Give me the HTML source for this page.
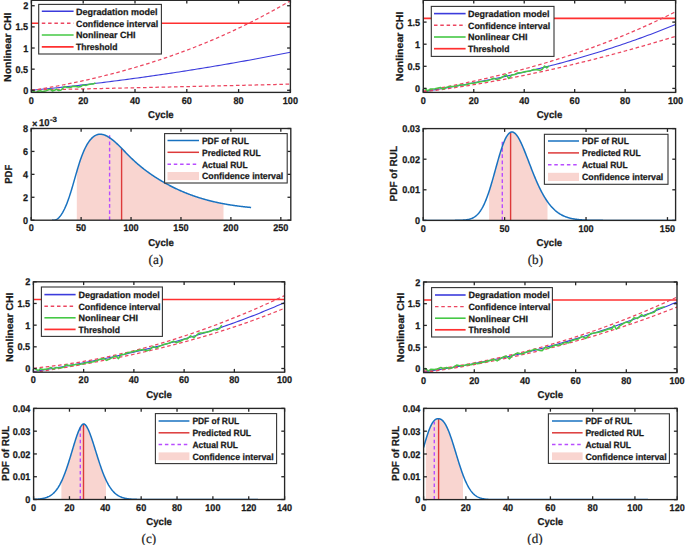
<!DOCTYPE html>
<html><head><meta charset="utf-8"><style>
html,body{margin:0;padding:0;background:#fff;width:685px;height:545px;overflow:hidden}
svg text{text-rendering:geometricPrecision}

</style></head><body>
<svg width="685" height="545" viewBox="0 0 685 545" style="display:block">
<rect width="685" height="545" fill="#fff"/>
<clipPath id="c1"><rect x="31.4" y="0.3" width="259" height="92.1"/></clipPath>
<g clip-path="url(#c1)">
<polyline points="31.4,23.24 290.4,23.24" fill="none" stroke="#ff3030" stroke-width="1.6" stroke-linejoin="round"/>
<polyline points="31.4,90.29 33.99,90.04 36.58,89.79 39.17,89.54 41.76,89.28 44.35,89.03 46.94,88.77 49.53,88.5 52.12,88.24 54.71,87.97 57.3,87.7 59.89,87.43 62.48,87.15 65.07,86.87 67.66,86.59 70.25,86.3 72.84,86.02 75.43,85.73 78.02,85.44 80.61,85.14 83.2,84.84 85.79,84.54 88.38,84.24 90.97,83.93 93.56,83.62 96.15,83.31 98.74,83 101.33,82.68 103.92,82.36 106.51,82.04 109.1,81.72 111.69,81.39 114.28,81.06 116.87,80.73 119.46,80.39 122.05,80.05 124.64,79.71 127.23,79.37 129.82,79.02 132.41,78.67 135,78.32 137.59,77.96 140.18,77.61 142.77,77.25 145.36,76.89 147.95,76.52 150.54,76.15 153.13,75.78 155.72,75.41 158.31,75.03 160.9,74.65 163.49,74.27 166.08,73.89 168.67,73.5 171.26,73.11 173.85,72.72 176.44,72.32 179.03,71.93 181.62,71.53 184.21,71.12 186.8,70.72 189.39,70.31 191.98,69.9 194.57,69.48 197.16,69.07 199.75,68.65 202.34,68.23 204.93,67.8 207.52,67.37 210.11,66.94 212.7,66.51 215.29,66.08 217.88,65.64 220.47,65.2 223.06,64.75 225.65,64.31 228.24,63.86 230.83,63.41 233.42,62.95 236.01,62.49 238.6,62.03 241.19,61.57 243.78,61.11 246.37,60.64 248.96,60.17 251.55,59.7 254.14,59.22 256.73,58.74 259.32,58.26 261.91,57.78 264.5,57.29 267.09,56.8 269.68,56.31 272.27,55.81 274.86,55.31 277.45,54.81 280.04,54.31 282.63,53.81 285.22,53.3 287.81,52.79 290.4,52.27" fill="none" stroke="#3b3bdc" stroke-width="1.1" stroke-linejoin="round"/>
<polyline points="31.4,90.52 33.99,90.1 36.58,89.67 39.17,89.24 41.76,88.8 44.35,88.35 46.94,87.89 49.53,87.43 52.12,86.96 54.71,86.48 57.3,86 59.89,85.5 62.48,85 65.07,84.49 67.66,83.98 70.25,83.45 72.84,82.92 75.43,82.38 78.02,81.83 80.61,81.27 83.2,80.7 85.79,80.13 88.38,79.55 90.97,78.95 93.56,78.35 96.15,77.74 98.74,77.12 101.33,76.5 103.92,75.86 106.51,75.21 109.1,74.56 111.69,73.89 114.28,73.22 116.87,72.54 119.46,71.84 122.05,71.14 124.64,70.43 127.23,69.71 129.82,68.97 132.41,68.23 135,67.48 137.59,66.72 140.18,65.94 142.77,65.16 145.36,64.37 147.95,63.56 150.54,62.75 153.13,61.92 155.72,61.09 158.31,60.24 160.9,59.38 163.49,58.52 166.08,57.64 168.67,56.75 171.26,55.84 173.85,54.93 176.44,54.01 179.03,53.07 181.62,52.12 184.21,51.16 186.8,50.19 189.39,49.21 191.98,48.21 194.57,47.21 197.16,46.19 199.75,45.16 202.34,44.11 204.93,43.06 207.52,41.99 210.11,40.91 212.7,39.82 215.29,38.71 217.88,37.59 220.47,36.46 223.06,35.32 225.65,34.16 228.24,32.99 230.83,31.81 233.42,30.61 236.01,29.4 238.6,28.18 241.19,26.94 243.78,25.69 246.37,24.43 248.96,23.15 251.55,21.86 254.14,20.56 256.73,19.24 259.32,17.9 261.91,16.56 264.5,15.2 267.09,13.82 269.68,12.43 272.27,11.03 274.86,9.61 277.45,8.17 280.04,6.73 282.63,5.26 285.22,3.79 287.81,2.29 290.4,0.78" fill="none" stroke="#ec4660" stroke-width="1.25" stroke-dasharray="3.6 2.6" stroke-linejoin="round"/>
<polyline points="31.4,89.99 33.99,89.94 36.58,89.88 39.17,89.83 41.76,89.78 44.35,89.72 46.94,89.67 49.53,89.61 52.12,89.56 54.71,89.5 57.3,89.45 59.89,89.4 62.48,89.34 65.07,89.29 67.66,89.23 70.25,89.18 72.84,89.12 75.43,89.07 78.02,89.01 80.61,88.95 83.2,88.9 85.79,88.84 88.38,88.79 90.97,88.73 93.56,88.68 96.15,88.62 98.74,88.56 101.33,88.51 103.92,88.45 106.51,88.4 109.1,88.34 111.69,88.28 114.28,88.23 116.87,88.17 119.46,88.11 122.05,88.05 124.64,88 127.23,87.94 129.82,87.88 132.41,87.83 135,87.77 137.59,87.71 140.18,87.65 142.77,87.59 145.36,87.54 147.95,87.48 150.54,87.42 153.13,87.36 155.72,87.3 158.31,87.24 160.9,87.19 163.49,87.13 166.08,87.07 168.67,87.01 171.26,86.95 173.85,86.89 176.44,86.83 179.03,86.77 181.62,86.71 184.21,86.65 186.8,86.59 189.39,86.53 191.98,86.47 194.57,86.41 197.16,86.35 199.75,86.29 202.34,86.23 204.93,86.17 207.52,86.11 210.11,86.05 212.7,85.99 215.29,85.93 217.88,85.87 220.47,85.81 223.06,85.75 225.65,85.69 228.24,85.63 230.83,85.56 233.42,85.5 236.01,85.44 238.6,85.38 241.19,85.32 243.78,85.26 246.37,85.19 248.96,85.13 251.55,85.07 254.14,85.01 256.73,84.95 259.32,84.88 261.91,84.82 264.5,84.76 267.09,84.69 269.68,84.63 272.27,84.57 274.86,84.51 277.45,84.44 280.04,84.38 282.63,84.31 285.22,84.25 287.81,84.19 290.4,84.12" fill="none" stroke="#ec4660" stroke-width="1.25" stroke-dasharray="3.6 2.6" stroke-linejoin="round"/>
<polyline points="31.6,91.5 32,90.3 34,91.8 36.1,92.6 38,91.2 40.2,90.8 43,91.6 45.3,91.1 48,90 50.4,89.3 52.5,91.1 54.5,90.2 56.6,89.3 58.5,90.6 60.7,90.3 62.5,88.6 64.7,86.4 67,87.6 70.9,87.3 73,86.3 76,86.4 78.5,87 81.1,86.4 83.1,85 86.2,85.4 88.5,84.6 91.3,84 93.3,83.9 95.4,83" fill="none" stroke="#45c845" stroke-width="1.5" stroke-linejoin="round"/>
</g>
<line x1="31.4" y1="92.4" x2="31.4" y2="89.1" stroke="#262626" stroke-width="1.3"/>
<line x1="31.4" y1="0.3" x2="31.4" y2="3.6" stroke="#262626" stroke-width="1.3"/>
<line x1="83.2" y1="92.4" x2="83.2" y2="89.1" stroke="#262626" stroke-width="1.3"/>
<line x1="83.2" y1="0.3" x2="83.2" y2="3.6" stroke="#262626" stroke-width="1.3"/>
<line x1="135" y1="92.4" x2="135" y2="89.1" stroke="#262626" stroke-width="1.3"/>
<line x1="135" y1="0.3" x2="135" y2="3.6" stroke="#262626" stroke-width="1.3"/>
<line x1="186.8" y1="92.4" x2="186.8" y2="89.1" stroke="#262626" stroke-width="1.3"/>
<line x1="186.8" y1="0.3" x2="186.8" y2="3.6" stroke="#262626" stroke-width="1.3"/>
<line x1="238.6" y1="92.4" x2="238.6" y2="89.1" stroke="#262626" stroke-width="1.3"/>
<line x1="238.6" y1="0.3" x2="238.6" y2="3.6" stroke="#262626" stroke-width="1.3"/>
<line x1="290.4" y1="92.4" x2="290.4" y2="89.1" stroke="#262626" stroke-width="1.3"/>
<line x1="290.4" y1="0.3" x2="290.4" y2="3.6" stroke="#262626" stroke-width="1.3"/>
<line x1="31.4" y1="90.3" x2="34.7" y2="90.3" stroke="#262626" stroke-width="1.3"/>
<line x1="290.4" y1="90.3" x2="287.1" y2="90.3" stroke="#262626" stroke-width="1.3"/>
<line x1="31.4" y1="69.16" x2="34.7" y2="69.16" stroke="#262626" stroke-width="1.3"/>
<line x1="290.4" y1="69.16" x2="287.1" y2="69.16" stroke="#262626" stroke-width="1.3"/>
<line x1="31.4" y1="48.02" x2="34.7" y2="48.02" stroke="#262626" stroke-width="1.3"/>
<line x1="290.4" y1="48.02" x2="287.1" y2="48.02" stroke="#262626" stroke-width="1.3"/>
<line x1="31.4" y1="26.88" x2="34.7" y2="26.88" stroke="#262626" stroke-width="1.3"/>
<line x1="290.4" y1="26.88" x2="287.1" y2="26.88" stroke="#262626" stroke-width="1.3"/>
<line x1="31.4" y1="5.74" x2="34.7" y2="5.74" stroke="#262626" stroke-width="1.3"/>
<line x1="290.4" y1="5.74" x2="287.1" y2="5.74" stroke="#262626" stroke-width="1.3"/>
<rect x="31.4" y="0.3" width="259" height="92.1" fill="none" stroke="#262626" stroke-width="1.35"/>
<text x="31.4" y="104.1" font-size="9.8" font-weight="bold" text-anchor="middle" fill="#1a1a1a" font-family='"Liberation Sans", sans-serif' textLength="5.07" lengthAdjust="spacingAndGlyphs" stroke="#1a1a1a" stroke-width="0.25">0</text>
<text x="83.2" y="104.1" font-size="9.8" font-weight="bold" text-anchor="middle" fill="#1a1a1a" font-family='"Liberation Sans", sans-serif' textLength="10.14" lengthAdjust="spacingAndGlyphs" stroke="#1a1a1a" stroke-width="0.25">20</text>
<text x="135" y="104.1" font-size="9.8" font-weight="bold" text-anchor="middle" fill="#1a1a1a" font-family='"Liberation Sans", sans-serif' textLength="10.14" lengthAdjust="spacingAndGlyphs" stroke="#1a1a1a" stroke-width="0.25">40</text>
<text x="186.8" y="104.1" font-size="9.8" font-weight="bold" text-anchor="middle" fill="#1a1a1a" font-family='"Liberation Sans", sans-serif' textLength="10.14" lengthAdjust="spacingAndGlyphs" stroke="#1a1a1a" stroke-width="0.25">60</text>
<text x="238.6" y="104.1" font-size="9.8" font-weight="bold" text-anchor="middle" fill="#1a1a1a" font-family='"Liberation Sans", sans-serif' textLength="10.14" lengthAdjust="spacingAndGlyphs" stroke="#1a1a1a" stroke-width="0.25">80</text>
<text x="290.4" y="104.1" font-size="9.8" font-weight="bold" text-anchor="middle" fill="#1a1a1a" font-family='"Liberation Sans", sans-serif' textLength="15.2" lengthAdjust="spacingAndGlyphs" stroke="#1a1a1a" stroke-width="0.25">100</text>
<text x="28.2" y="93.9" font-size="9.8" font-weight="bold" text-anchor="end" fill="#1a1a1a" font-family='"Liberation Sans", sans-serif' textLength="5.07" lengthAdjust="spacingAndGlyphs" stroke="#1a1a1a" stroke-width="0.25">0</text>
<text x="28.2" y="72.76" font-size="9.8" font-weight="bold" text-anchor="end" fill="#1a1a1a" font-family='"Liberation Sans", sans-serif' textLength="12.67" lengthAdjust="spacingAndGlyphs" stroke="#1a1a1a" stroke-width="0.25">0.5</text>
<text x="28.2" y="51.62" font-size="9.8" font-weight="bold" text-anchor="end" fill="#1a1a1a" font-family='"Liberation Sans", sans-serif' textLength="5.07" lengthAdjust="spacingAndGlyphs" stroke="#1a1a1a" stroke-width="0.25">1</text>
<text x="28.2" y="30.48" font-size="9.8" font-weight="bold" text-anchor="end" fill="#1a1a1a" font-family='"Liberation Sans", sans-serif' textLength="12.67" lengthAdjust="spacingAndGlyphs" stroke="#1a1a1a" stroke-width="0.25">1.5</text>
<text x="28.2" y="9.34" font-size="9.8" font-weight="bold" text-anchor="end" fill="#1a1a1a" font-family='"Liberation Sans", sans-serif' textLength="5.07" lengthAdjust="spacingAndGlyphs" stroke="#1a1a1a" stroke-width="0.25">2</text>
<rect x="38.7" y="4.4" width="122.7" height="49.6" fill="#fff" stroke="#333" stroke-width="1.1"/>
<line x1="41.8" y1="11.3" x2="73.6" y2="11.3" stroke="#3b3bdc" stroke-width="1.6"/>
<text x="76" y="14.6" font-size="9.0" font-weight="bold" text-anchor="start" fill="#1a1a1a" font-family='"Liberation Sans", sans-serif' textLength="81.4" lengthAdjust="spacingAndGlyphs" stroke="#1a1a1a" stroke-width="0.25">Degradation model</text>
<line x1="41.8" y1="23.2" x2="73.6" y2="23.2" stroke="#ec4660" stroke-width="1.45" stroke-dasharray="3.5 2.8"/>
<text x="76" y="26.5" font-size="9.0" font-weight="bold" text-anchor="start" fill="#1a1a1a" font-family='"Liberation Sans", sans-serif' textLength="82.1" lengthAdjust="spacingAndGlyphs" stroke="#1a1a1a" stroke-width="0.25">Confidence interval</text>
<line x1="41.8" y1="35" x2="73.6" y2="35" stroke="#45c845" stroke-width="1.6"/>
<text x="76" y="38.3" font-size="9.0" font-weight="bold" text-anchor="start" fill="#1a1a1a" font-family='"Liberation Sans", sans-serif' textLength="59.5" lengthAdjust="spacingAndGlyphs" stroke="#1a1a1a" stroke-width="0.25">Nonlinear CHI</text>
<line x1="41.8" y1="46.8" x2="73.6" y2="46.8" stroke="#ff3030" stroke-width="1.7"/>
<text x="76" y="50.1" font-size="9.0" font-weight="bold" text-anchor="start" fill="#1a1a1a" font-family='"Liberation Sans", sans-serif' textLength="41.5" lengthAdjust="spacingAndGlyphs" stroke="#1a1a1a" stroke-width="0.25">Threshold</text>
<text x="160.9" y="118" font-size="10" font-weight="bold" text-anchor="middle" fill="#1a1a1a" font-family='"Liberation Sans", sans-serif' textLength="25.6" lengthAdjust="spacingAndGlyphs" stroke="#1a1a1a" stroke-width="0.25">Cycle</text>
<text x="11" y="47.2" font-size="10" font-weight="bold" text-anchor="middle" fill="#1a1a1a" font-family='"Liberation Sans", sans-serif' textLength="69.5" lengthAdjust="spacingAndGlyphs" transform="rotate(-90 11 47.2)" stroke="#1a1a1a" stroke-width="0.25">Nonlinear CHI</text>
<clipPath id="c2"><rect x="31.2" y="128.5" width="259.6" height="91.7"/></clipPath>
<polygon points="76.8,220.2 76.8,171.49 77.1,170.47 77.6,168.78 78.1,167.12 78.6,165.48 79.1,163.88 79.6,162.32 80.1,160.8 80.6,159.33 81.1,157.91 81.6,156.54 82.1,155.22 82.6,153.94 83.1,152.71 83.6,151.53 84.1,150.39 84.6,149.3 85.1,148.25 85.6,147.25 86.1,146.28 86.6,145.37 87.1,144.49 87.6,143.65 88.1,142.86 88.6,142.1 89.1,141.39 89.6,140.71 90.1,140.07 90.6,139.47 91.1,138.9 91.6,138.37 92.1,137.88 92.6,137.42 93.1,136.99 93.6,136.6 94.1,136.24 94.6,135.91 95.1,135.61 95.6,135.35 96.1,135.11 96.6,134.9 97.1,134.73 97.6,134.58 98.1,134.45 98.6,134.36 99.1,134.29 99.6,134.24 100.1,134.23 100.6,134.23 101.1,134.26 101.6,134.31 102.1,134.39 102.6,134.48 103.1,134.6 103.6,134.74 104.1,134.89 104.6,135.07 105.1,135.26 105.6,135.47 106.1,135.7 106.6,135.95 107.1,136.21 107.6,136.48 108.1,136.77 108.6,137.08 109.1,137.39 109.6,137.72 110.1,138.07 110.6,138.42 111.1,138.78 111.6,139.16 112.1,139.54 112.6,139.94 113.1,140.34 113.6,140.75 114.1,141.18 114.6,141.61 115.1,142.05 115.6,142.49 116.1,142.94 116.6,143.4 117.1,143.87 117.6,144.34 118.1,144.82 118.6,145.3 119.1,145.79 119.6,146.28 120.1,146.78 120.6,147.28 121.1,147.78 121.6,148.29 122.1,148.8 122.6,149.31 123.1,149.82 123.6,150.34 124.1,150.85 124.6,151.37 125.1,151.88 125.6,152.4 126.1,152.91 126.6,153.43 127.1,153.94 127.6,154.45 128.1,154.96 128.6,155.46 129.1,155.96 129.6,156.46 130.1,156.96 130.6,157.45 131.1,157.94 131.6,158.42 132.1,158.9 132.6,159.38 133.1,159.85 133.6,160.31 134.1,160.78 134.6,161.23 135.1,161.69 135.6,162.14 136.1,162.59 136.6,163.03 137.1,163.47 137.6,163.9 138.1,164.34 138.6,164.76 139.1,165.19 139.6,165.61 140.1,166.03 140.6,166.44 141.1,166.85 141.6,167.25 142.1,167.66 142.6,168.06 143.1,168.45 143.6,168.85 144.1,169.23 144.6,169.62 145.1,170 145.6,170.38 146.1,170.76 146.6,171.13 147.1,171.5 147.6,171.87 148.1,172.23 148.6,172.59 149.1,172.95 149.6,173.31 150.1,173.66 150.6,174.01 151.1,174.35 151.6,174.7 152.1,175.04 152.6,175.38 153.1,175.71 153.6,176.04 154.1,176.37 154.6,176.7 155.1,177.03 155.6,177.35 156.1,177.67 156.6,177.99 157.1,178.3 157.6,178.61 158.1,178.92 158.6,179.23 159.1,179.54 159.6,179.84 160.1,180.14 160.6,180.44 161.1,180.74 161.6,181.03 162.1,181.33 162.6,181.62 163.1,181.91 163.6,182.19 164.1,182.48 164.6,182.76 165.1,183.04 165.6,183.32 166.1,183.59 166.6,183.87 167.1,184.14 167.6,184.41 168.1,184.68 168.6,184.94 169.1,185.21 169.6,185.47 170.1,185.73 170.6,185.99 171.1,186.24 171.6,186.5 172.1,186.75 172.6,187 173.1,187.25 173.6,187.49 174.1,187.74 174.6,187.98 175.1,188.22 175.6,188.46 176.1,188.7 176.6,188.93 177.1,189.16 177.6,189.39 178.1,189.62 178.6,189.85 179.1,190.08 179.6,190.3 180.1,190.52 180.6,190.74 181.1,190.96 181.6,191.18 182.1,191.39 182.6,191.6 183.1,191.82 183.6,192.02 184.1,192.23 184.6,192.44 185.1,192.64 185.6,192.84 186.1,193.04 186.6,193.24 187.1,193.44 187.6,193.64 188.1,193.83 188.6,194.02 189.1,194.21 189.6,194.4 190.1,194.59 190.6,194.77 191.1,194.96 191.6,195.14 192.1,195.32 192.6,195.5 193.1,195.68 193.6,195.85 194.1,196.03 194.6,196.2 195.1,196.37 195.6,196.54 196.1,196.71 196.6,196.87 197.1,197.04 197.6,197.2 198.1,197.36 198.6,197.52 199.1,197.68 199.6,197.84 200.1,197.99 200.6,198.15 201.1,198.3 201.6,198.45 202.1,198.6 202.6,198.75 203.1,198.9 203.6,199.04 204.1,199.19 204.6,199.33 205.1,199.47 205.6,199.61 206.1,199.75 206.6,199.88 207.1,200.02 207.6,200.15 208.1,200.29 208.6,200.42 209.1,200.55 209.6,200.68 210.1,200.8 210.6,200.93 211.1,201.05 211.6,201.18 212.1,201.3 212.6,201.42 213.1,201.54 213.6,201.66 214.1,201.77 214.6,201.89 215.1,202.01 215.6,202.12 216.1,202.23 216.6,202.34 217.1,202.45 217.6,202.56 218.1,202.67 218.6,202.77 219.1,202.88 219.6,202.98 220.1,203.08 220.6,203.18 221.1,203.28 221.6,203.38 222.1,203.48 222.6,203.58 223.1,203.67 223.5,203.75 223.5,220.2" fill="#f9d5d0"/>
<g clip-path="url(#c2)">
<line x1="109.6" y1="220.2" x2="109.6" y2="134.4" stroke="#b84dff" stroke-width="1.4" stroke-dasharray="3.6 2.65"/>
<line x1="121.6" y1="220.2" x2="121.6" y2="148.29" stroke="#dd3a3a" stroke-width="1.4"/>
<polyline points="52.1,219.94 52.6,220.08 53.1,220.17 53.6,220.21 54.1,220.2 54.6,220.14 55.1,220.03 55.6,219.87 56.1,219.67 56.6,219.41 57.1,219.11 57.6,218.76 58.1,218.36 58.6,217.91 59.1,217.41 59.6,216.86 60.1,216.27 60.6,215.63 61.1,214.94 61.6,214.2 62.1,213.41 62.6,212.58 63.1,211.69 63.6,210.76 64.1,209.78 64.6,208.76 65.1,207.68 65.6,206.56 66.1,205.39 66.6,204.17 67.1,202.91 67.6,201.6 68.1,200.24 68.6,198.83 69.1,197.38 69.6,195.88 70.1,194.33 70.6,192.74 71.1,191.12 71.6,189.47 72.1,187.79 72.6,186.09 73.1,184.37 73.6,182.63 74.1,180.89 74.6,179.14 75.1,177.39 75.6,175.64 76.1,173.9 76.6,172.18 77.1,170.47 77.6,168.78 78.1,167.12 78.6,165.48 79.1,163.88 79.6,162.32 80.1,160.8 80.6,159.33 81.1,157.91 81.6,156.54 82.1,155.22 82.6,153.94 83.1,152.71 83.6,151.53 84.1,150.39 84.6,149.3 85.1,148.25 85.6,147.25 86.1,146.28 86.6,145.37 87.1,144.49 87.6,143.65 88.1,142.86 88.6,142.1 89.1,141.39 89.6,140.71 90.1,140.07 90.6,139.47 91.1,138.9 91.6,138.37 92.1,137.88 92.6,137.42 93.1,136.99 93.6,136.6 94.1,136.24 94.6,135.91 95.1,135.61 95.6,135.35 96.1,135.11 96.6,134.9 97.1,134.73 97.6,134.58 98.1,134.45 98.6,134.36 99.1,134.29 99.6,134.24 100.1,134.23 100.6,134.23 101.1,134.26 101.6,134.31 102.1,134.39 102.6,134.48 103.1,134.6 103.6,134.74 104.1,134.89 104.6,135.07 105.1,135.26 105.6,135.47 106.1,135.7 106.6,135.95 107.1,136.21 107.6,136.48 108.1,136.77 108.6,137.08 109.1,137.39 109.6,137.72 110.1,138.07 110.6,138.42 111.1,138.78 111.6,139.16 112.1,139.54 112.6,139.94 113.1,140.34 113.6,140.75 114.1,141.18 114.6,141.61 115.1,142.05 115.6,142.49 116.1,142.94 116.6,143.4 117.1,143.87 117.6,144.34 118.1,144.82 118.6,145.3 119.1,145.79 119.6,146.28 120.1,146.78 120.6,147.28 121.1,147.78 121.6,148.29 122.1,148.8 122.6,149.31 123.1,149.82 123.6,150.34 124.1,150.85 124.6,151.37 125.1,151.88 125.6,152.4 126.1,152.91 126.6,153.43 127.1,153.94 127.6,154.45 128.1,154.96 128.6,155.46 129.1,155.96 129.6,156.46 130.1,156.96 130.6,157.45 131.1,157.94 131.6,158.42 132.1,158.9 132.6,159.38 133.1,159.85 133.6,160.31 134.1,160.78 134.6,161.23 135.1,161.69 135.6,162.14 136.1,162.59 136.6,163.03 137.1,163.47 137.6,163.9 138.1,164.34 138.6,164.76 139.1,165.19 139.6,165.61 140.1,166.03 140.6,166.44 141.1,166.85 141.6,167.25 142.1,167.66 142.6,168.06 143.1,168.45 143.6,168.85 144.1,169.23 144.6,169.62 145.1,170 145.6,170.38 146.1,170.76 146.6,171.13 147.1,171.5 147.6,171.87 148.1,172.23 148.6,172.59 149.1,172.95 149.6,173.31 150.1,173.66 150.6,174.01 151.1,174.35 151.6,174.7 152.1,175.04 152.6,175.38 153.1,175.71 153.6,176.04 154.1,176.37 154.6,176.7 155.1,177.03 155.6,177.35 156.1,177.67 156.6,177.99 157.1,178.3 157.6,178.61 158.1,178.92 158.6,179.23 159.1,179.54 159.6,179.84 160.1,180.14 160.6,180.44 161.1,180.74 161.6,181.03 162.1,181.33 162.6,181.62 163.1,181.91 163.6,182.19 164.1,182.48 164.6,182.76 165.1,183.04 165.6,183.32 166.1,183.59 166.6,183.87 167.1,184.14 167.6,184.41 168.1,184.68 168.6,184.94 169.1,185.21 169.6,185.47 170.1,185.73 170.6,185.99 171.1,186.24 171.6,186.5 172.1,186.75 172.6,187 173.1,187.25 173.6,187.49 174.1,187.74 174.6,187.98 175.1,188.22 175.6,188.46 176.1,188.7 176.6,188.93 177.1,189.16 177.6,189.39 178.1,189.62 178.6,189.85 179.1,190.08 179.6,190.3 180.1,190.52 180.6,190.74 181.1,190.96 181.6,191.18 182.1,191.39 182.6,191.6 183.1,191.82 183.6,192.02 184.1,192.23 184.6,192.44 185.1,192.64 185.6,192.84 186.1,193.04 186.6,193.24 187.1,193.44 187.6,193.64 188.1,193.83 188.6,194.02 189.1,194.21 189.6,194.4 190.1,194.59 190.6,194.77 191.1,194.96 191.6,195.14 192.1,195.32 192.6,195.5 193.1,195.68 193.6,195.85 194.1,196.03 194.6,196.2 195.1,196.37 195.6,196.54 196.1,196.71 196.6,196.87 197.1,197.04 197.6,197.2 198.1,197.36 198.6,197.52 199.1,197.68 199.6,197.84 200.1,197.99 200.6,198.15 201.1,198.3 201.6,198.45 202.1,198.6 202.6,198.75 203.1,198.9 203.6,199.04 204.1,199.19 204.6,199.33 205.1,199.47 205.6,199.61 206.1,199.75 206.6,199.88 207.1,200.02 207.6,200.15 208.1,200.29 208.6,200.42 209.1,200.55 209.6,200.68 210.1,200.8 210.6,200.93 211.1,201.05 211.6,201.18 212.1,201.3 212.6,201.42 213.1,201.54 213.6,201.66 214.1,201.77 214.6,201.89 215.1,202.01 215.6,202.12 216.1,202.23 216.6,202.34 217.1,202.45 217.6,202.56 218.1,202.67 218.6,202.77 219.1,202.88 219.6,202.98 220.1,203.08 220.6,203.18 221.1,203.28 221.6,203.38 222.1,203.48 222.6,203.58 223.1,203.67 223.6,203.77 224.1,203.86 224.6,203.95 225.1,204.04 225.6,204.13 226.1,204.22 226.6,204.31 227.1,204.4 227.6,204.48 228.1,204.57 228.6,204.65 229.1,204.73 229.6,204.81 230.1,204.9 230.6,204.98 231.1,205.05 231.6,205.13 232.1,205.21 232.6,205.28 233.1,205.36 233.6,205.43 234.1,205.51 234.6,205.58 235.1,205.65 235.6,205.72 236.1,205.79 236.6,205.86 237.1,205.92 237.6,205.99 238.1,206.06 238.6,206.12 239.1,206.18 239.6,206.25 240.1,206.31 240.6,206.37 241.1,206.43 241.6,206.49 242.1,206.55 242.6,206.61 243.1,206.66 243.6,206.72 244.1,206.78 244.6,206.83 245.1,206.89 245.6,206.94 246.1,206.99 246.6,207.04 247.1,207.1 247.6,207.15 248.1,207.2 248.6,207.24 249.1,207.29 249.6,207.34 250.1,207.39 250.6,207.43 251.1,207.48" fill="none" stroke="#1872c0" stroke-width="1.5" stroke-linejoin="round"/>
</g>
<line x1="31.2" y1="220.2" x2="31.2" y2="216.9" stroke="#262626" stroke-width="1.3"/>
<line x1="31.2" y1="128.5" x2="31.2" y2="131.8" stroke="#262626" stroke-width="1.3"/>
<line x1="81.12" y1="220.2" x2="81.12" y2="216.9" stroke="#262626" stroke-width="1.3"/>
<line x1="81.12" y1="128.5" x2="81.12" y2="131.8" stroke="#262626" stroke-width="1.3"/>
<line x1="131.05" y1="220.2" x2="131.05" y2="216.9" stroke="#262626" stroke-width="1.3"/>
<line x1="131.05" y1="128.5" x2="131.05" y2="131.8" stroke="#262626" stroke-width="1.3"/>
<line x1="180.97" y1="220.2" x2="180.97" y2="216.9" stroke="#262626" stroke-width="1.3"/>
<line x1="180.97" y1="128.5" x2="180.97" y2="131.8" stroke="#262626" stroke-width="1.3"/>
<line x1="230.89" y1="220.2" x2="230.89" y2="216.9" stroke="#262626" stroke-width="1.3"/>
<line x1="230.89" y1="128.5" x2="230.89" y2="131.8" stroke="#262626" stroke-width="1.3"/>
<line x1="280.82" y1="220.2" x2="280.82" y2="216.9" stroke="#262626" stroke-width="1.3"/>
<line x1="280.82" y1="128.5" x2="280.82" y2="131.8" stroke="#262626" stroke-width="1.3"/>
<line x1="31.2" y1="220.2" x2="34.5" y2="220.2" stroke="#262626" stroke-width="1.3"/>
<line x1="290.8" y1="220.2" x2="287.5" y2="220.2" stroke="#262626" stroke-width="1.3"/>
<line x1="31.2" y1="197.27" x2="34.5" y2="197.27" stroke="#262626" stroke-width="1.3"/>
<line x1="290.8" y1="197.27" x2="287.5" y2="197.27" stroke="#262626" stroke-width="1.3"/>
<line x1="31.2" y1="174.35" x2="34.5" y2="174.35" stroke="#262626" stroke-width="1.3"/>
<line x1="290.8" y1="174.35" x2="287.5" y2="174.35" stroke="#262626" stroke-width="1.3"/>
<line x1="31.2" y1="151.43" x2="34.5" y2="151.43" stroke="#262626" stroke-width="1.3"/>
<line x1="290.8" y1="151.43" x2="287.5" y2="151.43" stroke="#262626" stroke-width="1.3"/>
<line x1="31.2" y1="128.5" x2="34.5" y2="128.5" stroke="#262626" stroke-width="1.3"/>
<line x1="290.8" y1="128.5" x2="287.5" y2="128.5" stroke="#262626" stroke-width="1.3"/>
<rect x="31.2" y="128.5" width="259.6" height="91.7" fill="none" stroke="#262626" stroke-width="1.35"/>
<text x="31.2" y="231.3" font-size="9.8" font-weight="bold" text-anchor="middle" fill="#1a1a1a" font-family='"Liberation Sans", sans-serif' textLength="5.07" lengthAdjust="spacingAndGlyphs" stroke="#1a1a1a" stroke-width="0.25">0</text>
<text x="81.12" y="231.3" font-size="9.8" font-weight="bold" text-anchor="middle" fill="#1a1a1a" font-family='"Liberation Sans", sans-serif' textLength="10.14" lengthAdjust="spacingAndGlyphs" stroke="#1a1a1a" stroke-width="0.25">50</text>
<text x="131.05" y="231.3" font-size="9.8" font-weight="bold" text-anchor="middle" fill="#1a1a1a" font-family='"Liberation Sans", sans-serif' textLength="15.2" lengthAdjust="spacingAndGlyphs" stroke="#1a1a1a" stroke-width="0.25">100</text>
<text x="180.97" y="231.3" font-size="9.8" font-weight="bold" text-anchor="middle" fill="#1a1a1a" font-family='"Liberation Sans", sans-serif' textLength="15.2" lengthAdjust="spacingAndGlyphs" stroke="#1a1a1a" stroke-width="0.25">150</text>
<text x="230.89" y="231.3" font-size="9.8" font-weight="bold" text-anchor="middle" fill="#1a1a1a" font-family='"Liberation Sans", sans-serif' textLength="15.2" lengthAdjust="spacingAndGlyphs" stroke="#1a1a1a" stroke-width="0.25">200</text>
<text x="280.82" y="231.3" font-size="9.8" font-weight="bold" text-anchor="middle" fill="#1a1a1a" font-family='"Liberation Sans", sans-serif' textLength="15.2" lengthAdjust="spacingAndGlyphs" stroke="#1a1a1a" stroke-width="0.25">250</text>
<text x="28" y="223.8" font-size="9.8" font-weight="bold" text-anchor="end" fill="#1a1a1a" font-family='"Liberation Sans", sans-serif' textLength="5.07" lengthAdjust="spacingAndGlyphs" stroke="#1a1a1a" stroke-width="0.25">0</text>
<text x="28" y="200.87" font-size="9.8" font-weight="bold" text-anchor="end" fill="#1a1a1a" font-family='"Liberation Sans", sans-serif' textLength="5.07" lengthAdjust="spacingAndGlyphs" stroke="#1a1a1a" stroke-width="0.25">2</text>
<text x="28" y="177.95" font-size="9.8" font-weight="bold" text-anchor="end" fill="#1a1a1a" font-family='"Liberation Sans", sans-serif' textLength="5.07" lengthAdjust="spacingAndGlyphs" stroke="#1a1a1a" stroke-width="0.25">4</text>
<text x="28" y="155.03" font-size="9.8" font-weight="bold" text-anchor="end" fill="#1a1a1a" font-family='"Liberation Sans", sans-serif' textLength="5.07" lengthAdjust="spacingAndGlyphs" stroke="#1a1a1a" stroke-width="0.25">6</text>
<text x="28" y="132.1" font-size="9.8" font-weight="bold" text-anchor="end" fill="#1a1a1a" font-family='"Liberation Sans", sans-serif' textLength="5.07" lengthAdjust="spacingAndGlyphs" stroke="#1a1a1a" stroke-width="0.25">8</text>
<rect x="164.6" y="133.6" width="122.6" height="49.4" fill="#fff" stroke="#333" stroke-width="1.1"/>
<line x1="167.5" y1="140.5" x2="199" y2="140.5" stroke="#1872c0" stroke-width="1.5"/>
<text x="202" y="143.8" font-size="9.0" font-weight="bold" text-anchor="start" fill="#1a1a1a" font-family='"Liberation Sans", sans-serif' textLength="46.8" lengthAdjust="spacingAndGlyphs" stroke="#1a1a1a" stroke-width="0.25">PDF of RUL</text>
<line x1="167.5" y1="152.3" x2="199" y2="152.3" stroke="#dd3a3a" stroke-width="1.5"/>
<text x="202" y="155.6" font-size="9.0" font-weight="bold" text-anchor="start" fill="#1a1a1a" font-family='"Liberation Sans", sans-serif' textLength="58.6" lengthAdjust="spacingAndGlyphs" stroke="#1a1a1a" stroke-width="0.25">Predicted RUL</text>
<line x1="167.5" y1="164.2" x2="199" y2="164.2" stroke="#b84dff" stroke-width="1.5" stroke-dasharray="3.5 2.8"/>
<text x="202" y="167.5" font-size="9.0" font-weight="bold" text-anchor="start" fill="#1a1a1a" font-family='"Liberation Sans", sans-serif' textLength="45.6" lengthAdjust="spacingAndGlyphs" stroke="#1a1a1a" stroke-width="0.25">Actual RUL</text>
<rect x="167.5" y="172" width="31.5" height="8.1" fill="#f9d5d0"/>
<text x="202" y="179.3" font-size="9.0" font-weight="bold" text-anchor="start" fill="#1a1a1a" font-family='"Liberation Sans", sans-serif' textLength="81.3" lengthAdjust="spacingAndGlyphs" stroke="#1a1a1a" stroke-width="0.25">Confidence interval</text>
<text x="161" y="245.9" font-size="10" font-weight="bold" text-anchor="middle" fill="#1a1a1a" font-family='"Liberation Sans", sans-serif' textLength="25.6" lengthAdjust="spacingAndGlyphs" stroke="#1a1a1a" stroke-width="0.25">Cycle</text>
<text x="11.8" y="174.3" font-size="10.2" font-weight="bold" text-anchor="middle" fill="#1a1a1a" font-family='"Liberation Sans", sans-serif' textLength="19" lengthAdjust="spacingAndGlyphs" transform="rotate(-90 11.8 174.3)" stroke="#1a1a1a" stroke-width="0.25">PDF</text>
<text x="32" y="127.2" font-size="9.5" font-weight="bold" text-anchor="start" fill="#1a1a1a" font-family='"Liberation Sans", sans-serif' textLength="5.4" lengthAdjust="spacingAndGlyphs" stroke="#1a1a1a" stroke-width="0.25">×</text>
<text x="38.9" y="126.4" font-size="10" font-weight="bold" text-anchor="start" fill="#1a1a1a" font-family='"Liberation Sans", sans-serif' textLength="10.5" lengthAdjust="spacingAndGlyphs" stroke="#1a1a1a" stroke-width="0.25">10</text>
<text x="50" y="121.6" font-size="7.5" font-weight="bold" text-anchor="start" fill="#1a1a1a" font-family='"Liberation Sans", sans-serif' textLength="7" lengthAdjust="spacingAndGlyphs" stroke="#1a1a1a" stroke-width="0.25">-3</text>
<clipPath id="c3"><rect x="423.3" y="0.3" width="252.3" height="92.1"/></clipPath>
<g clip-path="url(#c3)">
<polyline points="423.3,18.39 675.6,18.39" fill="none" stroke="#ff3030" stroke-width="1.6" stroke-linejoin="round"/>
<polyline points="423.3,91.66 425.82,91.26 428.35,90.85 430.87,90.43 433.39,90.01 435.92,89.59 438.44,89.17 440.96,88.74 443.48,88.31 446.01,87.87 448.53,87.43 451.05,86.99 453.58,86.54 456.1,86.09 458.62,85.63 461.14,85.17 463.67,84.71 466.19,84.24 468.71,83.77 471.24,83.29 473.76,82.81 476.28,82.32 478.81,81.83 481.33,81.33 483.85,80.83 486.38,80.33 488.9,79.82 491.42,79.3 493.94,78.79 496.47,78.26 498.99,77.73 501.51,77.2 504.04,76.66 506.56,76.11 509.08,75.56 511.61,75.01 514.13,74.44 516.65,73.88 519.17,73.31 521.7,72.73 524.22,72.14 526.74,71.55 529.27,70.96 531.79,70.36 534.31,69.75 536.84,69.14 539.36,68.52 541.88,67.9 544.4,67.26 546.93,66.63 549.45,65.98 551.97,65.33 554.5,64.68 557.02,64.02 559.54,63.35 562.07,62.67 564.59,61.99 567.11,61.3 569.63,60.6 572.16,59.9 574.68,59.19 577.2,58.47 579.73,57.75 582.25,57.02 584.77,56.28 587.3,55.54 589.82,54.79 592.34,54.03 594.86,53.26 597.39,52.48 599.91,51.7 602.43,50.91 604.96,50.12 607.48,49.31 610,48.5 612.53,47.68 615.05,46.85 617.57,46.02 620.09,45.17 622.62,44.32 625.14,43.46 627.66,42.59 630.19,41.72 632.71,40.83 635.23,39.94 637.75,39.04 640.28,38.13 642.8,37.21 645.32,36.28 647.85,35.35 650.37,34.4 652.89,33.45 655.42,32.49 657.94,31.52 660.46,30.54 662.99,29.55 665.51,28.55 668.03,27.55 670.55,26.53 673.08,25.5 675.6,24.47" fill="none" stroke="#3b3bdc" stroke-width="1.1" stroke-linejoin="round"/>
<polyline points="423.3,91.02 425.82,90.57 428.35,90.12 430.87,89.67 433.39,89.21 435.92,88.74 438.44,88.27 440.96,87.79 443.48,87.32 446.01,86.83 448.53,86.34 451.05,85.85 453.58,85.35 456.1,84.84 458.62,84.33 461.14,83.81 463.67,83.29 466.19,82.77 468.71,82.23 471.24,81.69 473.76,81.15 476.28,80.6 478.81,80.04 481.33,79.48 483.85,78.91 486.38,78.34 488.9,77.76 491.42,77.17 493.94,76.58 496.47,75.98 498.99,75.37 501.51,74.76 504.04,74.14 506.56,73.51 509.08,72.87 511.61,72.23 514.13,71.59 516.65,70.93 519.17,70.27 521.7,69.6 524.22,68.92 526.74,68.24 529.27,67.54 531.79,66.84 534.31,66.14 536.84,65.42 539.36,64.7 541.88,63.96 544.4,63.23 546.93,62.48 549.45,61.72 551.97,60.96 554.5,60.19 557.02,59.4 559.54,58.61 562.07,57.82 564.59,57.01 567.11,56.19 569.63,55.37 572.16,54.54 574.68,53.69 577.2,52.84 579.73,51.98 582.25,51.11 584.77,50.23 587.3,49.35 589.82,48.45 592.34,47.54 594.86,46.62 597.39,45.7 599.91,44.76 602.43,43.81 604.96,42.86 607.48,41.89 610,40.91 612.53,39.93 615.05,38.93 617.57,37.92 620.09,36.9 622.62,35.88 625.14,34.84 627.66,33.79 630.19,32.73 632.71,31.65 635.23,30.57 637.75,29.48 640.28,28.38 642.8,27.26 645.32,26.13 647.85,25 650.37,23.85 652.89,22.69 655.42,21.51 657.94,20.33 660.46,19.13 662.99,17.93 665.51,16.71 668.03,15.47 670.55,14.23 673.08,12.98 675.6,11.71" fill="none" stroke="#ec4660" stroke-width="1.25" stroke-dasharray="3.6 2.6" stroke-linejoin="round"/>
<polyline points="423.3,91.89 425.82,91.58 428.35,91.27 430.87,90.95 433.39,90.63 435.92,90.3 438.44,89.96 440.96,89.62 443.48,89.28 446.01,88.93 448.53,88.57 451.05,88.21 453.58,87.84 456.1,87.46 458.62,87.08 461.14,86.7 463.67,86.31 466.19,85.91 468.71,85.51 471.24,85.1 473.76,84.69 476.28,84.27 478.81,83.85 481.33,83.42 483.85,82.98 486.38,82.54 488.9,82.1 491.42,81.65 493.94,81.19 496.47,80.73 498.99,80.27 501.51,79.8 504.04,79.32 506.56,78.84 509.08,78.36 511.61,77.87 514.13,77.37 516.65,76.87 519.17,76.36 521.7,75.85 524.22,75.34 526.74,74.82 529.27,74.29 531.79,73.76 534.31,73.23 536.84,72.69 539.36,72.14 541.88,71.6 544.4,71.04 546.93,70.48 549.45,69.92 551.97,69.35 554.5,68.78 557.02,68.2 559.54,67.62 562.07,67.04 564.59,66.44 567.11,65.85 569.63,65.25 572.16,64.65 574.68,64.04 577.2,63.43 579.73,62.81 582.25,62.19 584.77,61.56 587.3,60.93 589.82,60.3 592.34,59.66 594.86,59.02 597.39,58.37 599.91,57.72 602.43,57.06 604.96,56.4 607.48,55.74 610,55.07 612.53,54.4 615.05,53.73 617.57,53.05 620.09,52.36 622.62,51.68 625.14,50.98 627.66,50.29 630.19,49.59 632.71,48.89 635.23,48.18 637.75,47.47 640.28,46.76 642.8,46.04 645.32,45.32 647.85,44.59 650.37,43.86 652.89,43.13 655.42,42.39 657.94,41.65 660.46,40.91 662.99,40.16 665.51,39.41 668.03,38.66 670.55,37.9 673.08,37.14 675.6,36.38" fill="none" stroke="#ec4660" stroke-width="1.25" stroke-dasharray="3.6 2.6" stroke-linejoin="round"/>
<polyline points="424.1,88.7 425.3,88.6 427.6,90.9 430.5,89 435,88.8 440.4,87.5 443,89.2 446,87.5 450,86.6 455,86.4 460,85 465,85 470,83.5 475,83 480,81.8 484.4,81.3 488.8,80.4 493.7,78.2 496.4,79.6 500.8,78 506.3,74.7 508.7,78.5 511.8,74.9 515,74.5 517.2,73.1 521.6,72.5 526,71.4 530.4,70.9 533.7,69.5 536.9,69.8 540.2,70.3 542.4,69.2 544.6,66 546.8,67.9 549,66" fill="none" stroke="#45c845" stroke-width="1.5" stroke-linejoin="round"/>
</g>
<line x1="423.3" y1="92.4" x2="423.3" y2="89.1" stroke="#262626" stroke-width="1.3"/>
<line x1="423.3" y1="0.3" x2="423.3" y2="3.6" stroke="#262626" stroke-width="1.3"/>
<line x1="473.76" y1="92.4" x2="473.76" y2="89.1" stroke="#262626" stroke-width="1.3"/>
<line x1="473.76" y1="0.3" x2="473.76" y2="3.6" stroke="#262626" stroke-width="1.3"/>
<line x1="524.22" y1="92.4" x2="524.22" y2="89.1" stroke="#262626" stroke-width="1.3"/>
<line x1="524.22" y1="0.3" x2="524.22" y2="3.6" stroke="#262626" stroke-width="1.3"/>
<line x1="574.68" y1="92.4" x2="574.68" y2="89.1" stroke="#262626" stroke-width="1.3"/>
<line x1="574.68" y1="0.3" x2="574.68" y2="3.6" stroke="#262626" stroke-width="1.3"/>
<line x1="625.14" y1="92.4" x2="625.14" y2="89.1" stroke="#262626" stroke-width="1.3"/>
<line x1="625.14" y1="0.3" x2="625.14" y2="3.6" stroke="#262626" stroke-width="1.3"/>
<line x1="675.6" y1="92.4" x2="675.6" y2="89.1" stroke="#262626" stroke-width="1.3"/>
<line x1="675.6" y1="0.3" x2="675.6" y2="3.6" stroke="#262626" stroke-width="1.3"/>
<line x1="423.3" y1="88.4" x2="426.6" y2="88.4" stroke="#262626" stroke-width="1.3"/>
<line x1="675.6" y1="88.4" x2="672.3" y2="88.4" stroke="#262626" stroke-width="1.3"/>
<line x1="423.3" y1="66.3" x2="426.6" y2="66.3" stroke="#262626" stroke-width="1.3"/>
<line x1="675.6" y1="66.3" x2="672.3" y2="66.3" stroke="#262626" stroke-width="1.3"/>
<line x1="423.3" y1="44.2" x2="426.6" y2="44.2" stroke="#262626" stroke-width="1.3"/>
<line x1="675.6" y1="44.2" x2="672.3" y2="44.2" stroke="#262626" stroke-width="1.3"/>
<line x1="423.3" y1="22.1" x2="426.6" y2="22.1" stroke="#262626" stroke-width="1.3"/>
<line x1="675.6" y1="22.1" x2="672.3" y2="22.1" stroke="#262626" stroke-width="1.3"/>
<rect x="423.3" y="0.3" width="252.3" height="92.1" fill="none" stroke="#262626" stroke-width="1.35"/>
<text x="423.3" y="103.5" font-size="9.8" font-weight="bold" text-anchor="middle" fill="#1a1a1a" font-family='"Liberation Sans", sans-serif' textLength="5.07" lengthAdjust="spacingAndGlyphs" stroke="#1a1a1a" stroke-width="0.25">0</text>
<text x="473.76" y="103.5" font-size="9.8" font-weight="bold" text-anchor="middle" fill="#1a1a1a" font-family='"Liberation Sans", sans-serif' textLength="10.14" lengthAdjust="spacingAndGlyphs" stroke="#1a1a1a" stroke-width="0.25">20</text>
<text x="524.22" y="103.5" font-size="9.8" font-weight="bold" text-anchor="middle" fill="#1a1a1a" font-family='"Liberation Sans", sans-serif' textLength="10.14" lengthAdjust="spacingAndGlyphs" stroke="#1a1a1a" stroke-width="0.25">40</text>
<text x="574.68" y="103.5" font-size="9.8" font-weight="bold" text-anchor="middle" fill="#1a1a1a" font-family='"Liberation Sans", sans-serif' textLength="10.14" lengthAdjust="spacingAndGlyphs" stroke="#1a1a1a" stroke-width="0.25">60</text>
<text x="625.14" y="103.5" font-size="9.8" font-weight="bold" text-anchor="middle" fill="#1a1a1a" font-family='"Liberation Sans", sans-serif' textLength="10.14" lengthAdjust="spacingAndGlyphs" stroke="#1a1a1a" stroke-width="0.25">80</text>
<text x="675.6" y="103.5" font-size="9.8" font-weight="bold" text-anchor="middle" fill="#1a1a1a" font-family='"Liberation Sans", sans-serif' textLength="15.2" lengthAdjust="spacingAndGlyphs" stroke="#1a1a1a" stroke-width="0.25">100</text>
<text x="420.1" y="92" font-size="9.8" font-weight="bold" text-anchor="end" fill="#1a1a1a" font-family='"Liberation Sans", sans-serif' textLength="5.07" lengthAdjust="spacingAndGlyphs" stroke="#1a1a1a" stroke-width="0.25">0</text>
<text x="420.1" y="69.9" font-size="9.8" font-weight="bold" text-anchor="end" fill="#1a1a1a" font-family='"Liberation Sans", sans-serif' textLength="12.67" lengthAdjust="spacingAndGlyphs" stroke="#1a1a1a" stroke-width="0.25">0.5</text>
<text x="420.1" y="47.8" font-size="9.8" font-weight="bold" text-anchor="end" fill="#1a1a1a" font-family='"Liberation Sans", sans-serif' textLength="5.07" lengthAdjust="spacingAndGlyphs" stroke="#1a1a1a" stroke-width="0.25">1</text>
<text x="420.1" y="25.7" font-size="9.8" font-weight="bold" text-anchor="end" fill="#1a1a1a" font-family='"Liberation Sans", sans-serif' textLength="12.67" lengthAdjust="spacingAndGlyphs" stroke="#1a1a1a" stroke-width="0.25">1.5</text>
<rect x="431.3" y="6.4" width="122.7" height="50" fill="#fff" stroke="#333" stroke-width="1.1"/>
<line x1="434" y1="13.6" x2="465.6" y2="13.6" stroke="#3b3bdc" stroke-width="1.6"/>
<text x="468" y="16.9" font-size="9.0" font-weight="bold" text-anchor="start" fill="#1a1a1a" font-family='"Liberation Sans", sans-serif' textLength="81.4" lengthAdjust="spacingAndGlyphs" stroke="#1a1a1a" stroke-width="0.25">Degradation model</text>
<line x1="434" y1="25.3" x2="465.6" y2="25.3" stroke="#ec4660" stroke-width="1.45" stroke-dasharray="3.5 2.8"/>
<text x="468" y="28.6" font-size="9.0" font-weight="bold" text-anchor="start" fill="#1a1a1a" font-family='"Liberation Sans", sans-serif' textLength="82.1" lengthAdjust="spacingAndGlyphs" stroke="#1a1a1a" stroke-width="0.25">Confidence interval</text>
<line x1="434" y1="37" x2="465.6" y2="37" stroke="#45c845" stroke-width="1.6"/>
<text x="468" y="40.3" font-size="9.0" font-weight="bold" text-anchor="start" fill="#1a1a1a" font-family='"Liberation Sans", sans-serif' textLength="59.5" lengthAdjust="spacingAndGlyphs" stroke="#1a1a1a" stroke-width="0.25">Nonlinear CHI</text>
<line x1="434" y1="48.7" x2="465.6" y2="48.7" stroke="#ff3030" stroke-width="1.7"/>
<text x="468" y="52" font-size="9.0" font-weight="bold" text-anchor="start" fill="#1a1a1a" font-family='"Liberation Sans", sans-serif' textLength="41.5" lengthAdjust="spacingAndGlyphs" stroke="#1a1a1a" stroke-width="0.25">Threshold</text>
<text x="549.45" y="118" font-size="10" font-weight="bold" text-anchor="middle" fill="#1a1a1a" font-family='"Liberation Sans", sans-serif' textLength="25.6" lengthAdjust="spacingAndGlyphs" stroke="#1a1a1a" stroke-width="0.25">Cycle</text>
<text x="403" y="46.4" font-size="10" font-weight="bold" text-anchor="middle" fill="#1a1a1a" font-family='"Liberation Sans", sans-serif' textLength="69.5" lengthAdjust="spacingAndGlyphs" transform="rotate(-90 403 46.4)" stroke="#1a1a1a" stroke-width="0.25">Nonlinear CHI</text>
<clipPath id="c4"><rect x="423.2" y="128.6" width="252.4" height="91.8"/></clipPath>
<polygon points="489.1,220.4 489.1,191.25 489.2,190.95 489.7,189.4 490.2,187.81 490.7,186.18 491.2,184.52 491.7,182.83 492.2,181.11 492.7,179.37 493.2,177.61 493.7,175.83 494.2,174.03 494.7,172.23 495.2,170.41 495.7,168.6 496.2,166.79 496.7,164.98 497.2,163.19 497.7,161.4 498.2,159.64 498.7,157.9 499.2,156.19 499.7,154.5 500.2,152.86 500.7,151.25 501.2,149.69 501.7,148.17 502.2,146.71 502.7,145.3 503.2,143.95 503.7,142.66 504.2,141.43 504.7,140.27 505.2,139.18 505.7,138.17 506.2,137.22 506.7,136.35 507.2,135.56 507.7,134.85 508.2,134.21 508.7,133.66 509.2,133.18 509.7,132.79 510.2,132.48 510.7,132.24 511.2,132.09 511.7,132.01 512.2,132.01 512.7,132.09 513.2,132.24 513.7,132.47 514.2,132.77 514.7,133.13 515.2,133.57 515.7,134.07 516.2,134.63 516.7,135.26 517.2,135.94 517.7,136.68 518.2,137.47 518.7,138.31 519.2,139.2 519.7,140.14 520.2,141.11 520.7,142.13 521.2,143.18 521.7,144.27 522.2,145.39 522.7,146.54 523.2,147.71 523.7,148.9 524.2,150.12 524.7,151.36 525.2,152.61 525.7,153.87 526.2,155.15 526.7,156.44 527.2,157.73 527.7,159.03 528.2,160.34 528.7,161.64 529.2,162.95 529.7,164.25 530.2,165.55 530.7,166.85 531.2,168.14 531.7,169.42 532.2,170.69 532.7,171.96 533.2,173.21 533.7,174.45 534.2,175.68 534.7,176.89 535.2,178.09 535.7,179.27 536.2,180.44 536.7,181.59 537.2,182.72 537.7,183.84 538.2,184.94 538.7,186.01 539.2,187.07 539.7,188.11 540.2,189.13 540.7,190.13 541.2,191.11 541.7,192.07 542.2,193.01 542.7,193.93 543.2,194.83 543.7,195.7 544.2,196.56 544.7,197.4 545.2,198.21 545.7,199.01 546.2,199.78 546.7,200.53 547.2,201.27 547.5,201.7 547.5,220.4" fill="#f9d5d0"/>
<g clip-path="url(#c4)">
<line x1="502.3" y1="220.4" x2="502.3" y2="141" stroke="#b84dff" stroke-width="1.4" stroke-dasharray="3.6 2.65"/>
<line x1="510.6" y1="220.4" x2="510.6" y2="132.29" stroke="#dd3a3a" stroke-width="1.4"/>
<polyline points="423.2,220.4 423.7,220.4 424.2,220.4 424.7,220.4 425.2,220.4 425.7,220.4 426.2,220.4 426.7,220.4 427.2,220.4 427.7,220.4 428.2,220.4 428.7,220.4 429.2,220.4 429.7,220.4 430.2,220.4 430.7,220.4 431.2,220.4 431.7,220.4 432.2,220.4 432.7,220.4 433.2,220.4 433.7,220.4 434.2,220.4 434.7,220.4 435.2,220.4 435.7,220.4 436.2,220.4 436.7,220.4 437.2,220.4 437.7,220.4 438.2,220.4 438.7,220.4 439.2,220.4 439.7,220.4 440.2,220.4 440.7,220.4 441.2,220.4 441.7,220.4 442.2,220.4 442.7,220.4 443.2,220.4 443.7,220.4 444.2,220.4 444.7,220.4 445.2,220.4 445.7,220.4 446.2,220.4 446.7,220.4 447.2,220.4 447.7,220.4 448.2,220.4 448.7,220.4 449.2,220.4 449.7,220.4 450.2,220.39 450.7,220.39 451.2,220.39 451.7,220.39 452.2,220.39 452.7,220.39 453.2,220.38 453.7,220.38 454.2,220.38 454.7,220.38 455.2,220.37 455.7,220.37 456.2,220.36 456.7,220.35 457.2,220.35 457.7,220.34 458.2,220.33 458.7,220.32 459.2,220.31 459.7,220.29 460.2,220.28 460.7,220.26 461.2,220.24 461.7,220.21 462.2,220.19 462.7,220.16 463.2,220.12 463.7,220.09 464.2,220.04 464.7,220 465.2,219.94 465.7,219.88 466.2,219.82 466.7,219.74 467.2,219.66 467.7,219.57 468.2,219.47 468.7,219.36 469.2,219.24 469.7,219.1 470.2,218.95 470.7,218.79 471.2,218.61 471.7,218.41 472.2,218.2 472.7,217.97 473.2,217.71 473.7,217.44 474.2,217.14 474.7,216.82 475.2,216.47 475.7,216.09 476.2,215.68 476.7,215.25 477.2,214.78 477.7,214.27 478.2,213.73 478.7,213.16 479.2,212.55 479.7,211.9 480.2,211.2 480.7,210.47 481.2,209.69 481.7,208.87 482.2,208 482.7,207.09 483.2,206.13 483.7,205.13 484.2,204.07 484.7,202.97 485.2,201.82 485.7,200.62 486.2,199.38 486.7,198.09 487.2,196.75 487.7,195.36 488.2,193.93 488.7,192.46 489.2,190.95 489.7,189.4 490.2,187.81 490.7,186.18 491.2,184.52 491.7,182.83 492.2,181.11 492.7,179.37 493.2,177.61 493.7,175.83 494.2,174.03 494.7,172.23 495.2,170.41 495.7,168.6 496.2,166.79 496.7,164.98 497.2,163.19 497.7,161.4 498.2,159.64 498.7,157.9 499.2,156.19 499.7,154.5 500.2,152.86 500.7,151.25 501.2,149.69 501.7,148.17 502.2,146.71 502.7,145.3 503.2,143.95 503.7,142.66 504.2,141.43 504.7,140.27 505.2,139.18 505.7,138.17 506.2,137.22 506.7,136.35 507.2,135.56 507.7,134.85 508.2,134.21 508.7,133.66 509.2,133.18 509.7,132.79 510.2,132.48 510.7,132.24 511.2,132.09 511.7,132.01 512.2,132.01 512.7,132.09 513.2,132.24 513.7,132.47 514.2,132.77 514.7,133.13 515.2,133.57 515.7,134.07 516.2,134.63 516.7,135.26 517.2,135.94 517.7,136.68 518.2,137.47 518.7,138.31 519.2,139.2 519.7,140.14 520.2,141.11 520.7,142.13 521.2,143.18 521.7,144.27 522.2,145.39 522.7,146.54 523.2,147.71 523.7,148.9 524.2,150.12 524.7,151.36 525.2,152.61 525.7,153.87 526.2,155.15 526.7,156.44 527.2,157.73 527.7,159.03 528.2,160.34 528.7,161.64 529.2,162.95 529.7,164.25 530.2,165.55 530.7,166.85 531.2,168.14 531.7,169.42 532.2,170.69 532.7,171.96 533.2,173.21 533.7,174.45 534.2,175.68 534.7,176.89 535.2,178.09 535.7,179.27 536.2,180.44 536.7,181.59 537.2,182.72 537.7,183.84 538.2,184.94 538.7,186.01 539.2,187.07 539.7,188.11 540.2,189.13 540.7,190.13 541.2,191.11 541.7,192.07 542.2,193.01 542.7,193.93 543.2,194.83 543.7,195.7 544.2,196.56 544.7,197.4 545.2,198.21 545.7,199.01 546.2,199.78 546.7,200.53 547.2,201.27 547.7,201.98 548.2,202.68 548.7,203.35 549.2,204.01 549.7,204.64 550.2,205.26 550.7,205.86 551.2,206.44 551.7,207 552.2,207.55 552.7,208.08 553.2,208.59 553.7,209.08 554.2,209.56 554.7,210.02 555.2,210.47 555.7,210.9 556.2,211.31 556.7,211.71 557.2,212.1 557.7,212.47 558.2,212.83 558.7,213.17 559.2,213.5 559.7,213.82 560.2,214.13 560.7,214.42 561.2,214.71 561.7,214.98 562.2,215.24 562.7,215.49 563.2,215.73 563.7,215.96 564.2,216.18 564.7,216.39 565.2,216.59 565.7,216.78 566.2,216.97 566.7,217.15 567.2,217.31 567.7,217.47 568.2,217.63 568.7,217.77 569.2,217.91 569.7,218.05 570.2,218.17 570.7,218.3 571.2,218.41 571.7,218.52 572.2,218.62 572.7,218.72 573.2,218.82 573.7,218.91 574.2,218.99 574.7,219.07 575.2,219.15 575.7,219.22 576.2,219.29 576.7,219.36 577.2,219.42 577.7,219.48 578.2,219.53 578.7,219.58 579.2,219.63 579.7,219.68 580.2,219.72 580.7,219.77 581.2,219.8 581.7,219.84 582.2,219.88 582.7,219.91 583.2,219.94 583.7,219.97 584.2,220 584.7,220.02 585.2,220.05 585.7,220.07 586.2,220.09 586.7,220.11 587.2,220.13 587.7,220.15 588.2,220.17 588.7,220.18 589.2,220.2 589.7,220.21 590.2,220.22 590.7,220.24 591.2,220.25 591.7,220.26 592.2,220.27 592.7,220.28 593.2,220.29 593.7,220.29 594.2,220.3 594.7,220.31 595.2,220.32 595.7,220.32 596.2,220.33 596.7,220.33 597.2,220.34 597.7,220.34 598.2,220.35 598.7,220.35 599.2,220.35 599.7,220.36 600.2,220.36 600.7,220.36 601.2,220.37 601.7,220.37 602.2,220.37 602.7,220.37 603.2,220.38 603.7,220.38 604.2,220.38 604.7,220.38 605.2,220.38 605.7,220.38 606.2,220.39 606.7,220.39 607.2,220.39 607.7,220.39 608.2,220.39 608.7,220.39 609.2,220.39 609.7,220.39 610.2,220.39 610.7,220.39 611.2,220.39 611.7,220.39 612.2,220.39 612.7,220.4 613.2,220.4 613.7,220.4 614.2,220.4 614.7,220.4 615.2,220.4 615.7,220.4 616.2,220.4 616.7,220.4 617.2,220.4 617.7,220.4 618.2,220.4 618.7,220.4 619.2,220.4 619.7,220.4 620.2,220.4 620.7,220.4 621.2,220.4 621.7,220.4 622.2,220.4 622.7,220.4 623.2,220.4 623.7,220.4 624.2,220.4 624.7,220.4 625.2,220.4 625.7,220.4 626.2,220.4 626.7,220.4 627.2,220.4 627.7,220.4 628.2,220.4 628.7,220.4 629.2,220.4 629.7,220.4 630.2,220.4 630.7,220.4 631.2,220.4 631.7,220.4 632.2,220.4 632.7,220.4 633.2,220.4 633.7,220.4 634.2,220.4 634.7,220.4 635.2,220.4 635.7,220.4 636.2,220.4 636.7,220.4 637.2,220.4 637.7,220.4 638.2,220.4 638.7,220.4 639.2,220.4 639.7,220.4 640.2,220.4 640.7,220.4 641.2,220.4 641.7,220.4 642.2,220.4 642.7,220.4 643.2,220.4 643.7,220.4 644.2,220.4 644.7,220.4 645.2,220.4 645.7,220.4 646.2,220.4 646.7,220.4 647.2,220.4 647.7,220.4 648.2,220.4 648.7,220.4 649.2,220.4 649.7,220.4 650.2,220.4 650.7,220.4 651.2,220.4 651.7,220.4 652.2,220.4 652.7,220.4 653.2,220.4 653.7,220.4 654.2,220.4 654.7,220.4 655.2,220.4 655.7,220.4 656.2,220.4 656.7,220.4 657.2,220.4 657.7,220.4 658.2,220.4 658.7,220.4 659.2,220.4 659.7,220.4 660.2,220.4 660.7,220.4 661.2,220.4 661.7,220.4 662.2,220.4 662.7,220.4 663.2,220.4 663.7,220.4 664.2,220.4 664.7,220.4 665.2,220.4 665.7,220.4 666.2,220.4 666.7,220.4 667.2,220.4 667.7,220.4 668.2,220.4 668.7,220.4 669.2,220.4 669.7,220.4 670.2,220.4 670.7,220.4 671.2,220.4 671.7,220.4 672.2,220.4 672.7,220.4 673.2,220.4 673.7,220.4 674.2,220.4 674.7,220.4 675.2,220.4" fill="none" stroke="#1872c0" stroke-width="1.5" stroke-linejoin="round"/>
</g>
<line x1="423.2" y1="220.4" x2="423.2" y2="217.1" stroke="#262626" stroke-width="1.3"/>
<line x1="423.2" y1="128.6" x2="423.2" y2="131.9" stroke="#262626" stroke-width="1.3"/>
<line x1="504.62" y1="220.4" x2="504.62" y2="217.1" stroke="#262626" stroke-width="1.3"/>
<line x1="504.62" y1="128.6" x2="504.62" y2="131.9" stroke="#262626" stroke-width="1.3"/>
<line x1="586.04" y1="220.4" x2="586.04" y2="217.1" stroke="#262626" stroke-width="1.3"/>
<line x1="586.04" y1="128.6" x2="586.04" y2="131.9" stroke="#262626" stroke-width="1.3"/>
<line x1="667.46" y1="220.4" x2="667.46" y2="217.1" stroke="#262626" stroke-width="1.3"/>
<line x1="667.46" y1="128.6" x2="667.46" y2="131.9" stroke="#262626" stroke-width="1.3"/>
<line x1="423.2" y1="220.4" x2="426.5" y2="220.4" stroke="#262626" stroke-width="1.3"/>
<line x1="675.6" y1="220.4" x2="672.3" y2="220.4" stroke="#262626" stroke-width="1.3"/>
<line x1="423.2" y1="189.8" x2="426.5" y2="189.8" stroke="#262626" stroke-width="1.3"/>
<line x1="675.6" y1="189.8" x2="672.3" y2="189.8" stroke="#262626" stroke-width="1.3"/>
<line x1="423.2" y1="159.2" x2="426.5" y2="159.2" stroke="#262626" stroke-width="1.3"/>
<line x1="675.6" y1="159.2" x2="672.3" y2="159.2" stroke="#262626" stroke-width="1.3"/>
<line x1="423.2" y1="128.6" x2="426.5" y2="128.6" stroke="#262626" stroke-width="1.3"/>
<line x1="675.6" y1="128.6" x2="672.3" y2="128.6" stroke="#262626" stroke-width="1.3"/>
<rect x="423.2" y="128.6" width="252.4" height="91.8" fill="none" stroke="#262626" stroke-width="1.35"/>
<text x="423.2" y="231.5" font-size="9.8" font-weight="bold" text-anchor="middle" fill="#1a1a1a" font-family='"Liberation Sans", sans-serif' textLength="5.07" lengthAdjust="spacingAndGlyphs" stroke="#1a1a1a" stroke-width="0.25">0</text>
<text x="504.62" y="231.5" font-size="9.8" font-weight="bold" text-anchor="middle" fill="#1a1a1a" font-family='"Liberation Sans", sans-serif' textLength="10.14" lengthAdjust="spacingAndGlyphs" stroke="#1a1a1a" stroke-width="0.25">50</text>
<text x="586.04" y="231.5" font-size="9.8" font-weight="bold" text-anchor="middle" fill="#1a1a1a" font-family='"Liberation Sans", sans-serif' textLength="15.2" lengthAdjust="spacingAndGlyphs" stroke="#1a1a1a" stroke-width="0.25">100</text>
<text x="667.46" y="231.5" font-size="9.8" font-weight="bold" text-anchor="middle" fill="#1a1a1a" font-family='"Liberation Sans", sans-serif' textLength="15.2" lengthAdjust="spacingAndGlyphs" stroke="#1a1a1a" stroke-width="0.25">150</text>
<text x="420" y="224" font-size="9.8" font-weight="bold" text-anchor="end" fill="#1a1a1a" font-family='"Liberation Sans", sans-serif' textLength="5.07" lengthAdjust="spacingAndGlyphs" stroke="#1a1a1a" stroke-width="0.25">0</text>
<text x="420" y="193.4" font-size="9.8" font-weight="bold" text-anchor="end" fill="#1a1a1a" font-family='"Liberation Sans", sans-serif' textLength="17.74" lengthAdjust="spacingAndGlyphs" stroke="#1a1a1a" stroke-width="0.25">0.01</text>
<text x="420" y="162.8" font-size="9.8" font-weight="bold" text-anchor="end" fill="#1a1a1a" font-family='"Liberation Sans", sans-serif' textLength="17.74" lengthAdjust="spacingAndGlyphs" stroke="#1a1a1a" stroke-width="0.25">0.02</text>
<text x="420" y="132.2" font-size="9.8" font-weight="bold" text-anchor="end" fill="#1a1a1a" font-family='"Liberation Sans", sans-serif' textLength="17.74" lengthAdjust="spacingAndGlyphs" stroke="#1a1a1a" stroke-width="0.25">0.03</text>
<rect x="544.4" y="134.3" width="123.6" height="50" fill="#fff" stroke="#333" stroke-width="1.1"/>
<line x1="548" y1="141" x2="579" y2="141" stroke="#1872c0" stroke-width="1.5"/>
<text x="582" y="144.3" font-size="9.0" font-weight="bold" text-anchor="start" fill="#1a1a1a" font-family='"Liberation Sans", sans-serif' textLength="46.8" lengthAdjust="spacingAndGlyphs" stroke="#1a1a1a" stroke-width="0.25">PDF of RUL</text>
<line x1="548" y1="152.9" x2="579" y2="152.9" stroke="#dd3a3a" stroke-width="1.5"/>
<text x="582" y="156.2" font-size="9.0" font-weight="bold" text-anchor="start" fill="#1a1a1a" font-family='"Liberation Sans", sans-serif' textLength="58.6" lengthAdjust="spacingAndGlyphs" stroke="#1a1a1a" stroke-width="0.25">Predicted RUL</text>
<line x1="548" y1="164.8" x2="579" y2="164.8" stroke="#b84dff" stroke-width="1.5" stroke-dasharray="3.5 2.8"/>
<text x="582" y="168.1" font-size="9.0" font-weight="bold" text-anchor="start" fill="#1a1a1a" font-family='"Liberation Sans", sans-serif' textLength="45.6" lengthAdjust="spacingAndGlyphs" stroke="#1a1a1a" stroke-width="0.25">Actual RUL</text>
<rect x="548" y="172.8" width="31" height="8.2" fill="#f9d5d0"/>
<text x="582" y="179.9" font-size="9.0" font-weight="bold" text-anchor="start" fill="#1a1a1a" font-family='"Liberation Sans", sans-serif' textLength="81.3" lengthAdjust="spacingAndGlyphs" stroke="#1a1a1a" stroke-width="0.25">Confidence interval</text>
<text x="549.4" y="246" font-size="10" font-weight="bold" text-anchor="middle" fill="#1a1a1a" font-family='"Liberation Sans", sans-serif' textLength="25.6" lengthAdjust="spacingAndGlyphs" stroke="#1a1a1a" stroke-width="0.25">Cycle</text>
<text x="397.4" y="173.7" font-size="10.2" font-weight="bold" text-anchor="middle" fill="#1a1a1a" font-family='"Liberation Sans", sans-serif' textLength="55.5" lengthAdjust="spacingAndGlyphs" transform="rotate(-90 397.4 173.7)" stroke="#1a1a1a" stroke-width="0.25">PDF of RUL</text>
<clipPath id="c5"><rect x="33.4" y="281.8" width="251.2" height="90.4"/></clipPath>
<g clip-path="url(#c5)">
<polyline points="33.4,299.57 284.6,299.57" fill="none" stroke="#ff3030" stroke-width="1.6" stroke-linejoin="round"/>
<polyline points="33.4,371.58 35.91,371.17 38.42,370.76 40.94,370.35 43.45,369.93 45.96,369.51 48.47,369.09 50.98,368.67 53.5,368.24 56.01,367.81 58.52,367.37 61.03,366.93 63.54,366.49 66.06,366.04 68.57,365.59 71.08,365.13 73.59,364.67 76.1,364.21 78.62,363.74 81.13,363.27 83.64,362.79 86.15,362.31 88.66,361.82 91.18,361.33 93.69,360.83 96.2,360.33 98.71,359.82 101.22,359.31 103.74,358.8 106.25,358.28 108.76,357.75 111.27,357.22 113.78,356.68 116.3,356.13 118.81,355.59 121.32,355.03 123.83,354.47 126.34,353.9 128.86,353.33 131.37,352.75 133.88,352.17 136.39,351.57 138.9,350.98 141.42,350.37 143.93,349.76 146.44,349.14 148.95,348.52 151.46,347.89 153.98,347.25 156.49,346.61 159,345.95 161.51,345.3 164.02,344.63 166.54,343.96 169.05,343.28 171.56,342.59 174.07,341.89 176.58,341.19 179.1,340.48 181.61,339.76 184.12,339.03 186.63,338.3 189.14,337.55 191.66,336.8 194.17,336.04 196.68,335.28 199.19,334.5 201.7,333.72 204.22,332.92 206.73,332.12 209.24,331.31 211.75,330.49 214.26,329.66 216.78,328.83 219.29,327.98 221.8,327.13 224.31,326.26 226.82,325.39 229.34,324.5 231.85,323.61 234.36,322.71 236.87,321.8 239.38,320.88 241.9,319.94 244.41,319 246.92,318.05 249.43,317.09 251.94,316.12 254.46,315.14 256.97,314.14 259.48,313.14 261.99,312.13 264.5,311.1 267.02,310.07 269.53,309.02 272.04,307.97 274.55,306.9 277.06,305.82 279.58,304.74 282.09,303.63 284.6,302.52" fill="none" stroke="#3b3bdc" stroke-width="1.1" stroke-linejoin="round"/>
<polyline points="33.4,368.25 35.91,368 38.42,367.74 40.94,367.48 43.45,367.2 45.96,366.91 48.47,366.61 50.98,366.31 53.5,365.99 56.01,365.66 58.52,365.33 61.03,364.98 63.54,364.62 66.06,364.26 68.57,363.88 71.08,363.49 73.59,363.1 76.1,362.69 78.62,362.28 81.13,361.85 83.64,361.42 86.15,360.97 88.66,360.52 91.18,360.05 93.69,359.58 96.2,359.09 98.71,358.6 101.22,358.09 103.74,357.58 106.25,357.06 108.76,356.52 111.27,355.98 113.78,355.43 116.3,354.87 118.81,354.3 121.32,353.71 123.83,353.12 126.34,352.52 128.86,351.91 131.37,351.29 133.88,350.66 136.39,350.02 138.9,349.37 141.42,348.72 143.93,348.05 146.44,347.37 148.95,346.68 151.46,345.99 153.98,345.28 156.49,344.56 159,343.84 161.51,343.1 164.02,342.36 166.54,341.61 169.05,340.84 171.56,340.07 174.07,339.29 176.58,338.5 179.1,337.69 181.61,336.88 184.12,336.06 186.63,335.23 189.14,334.39 191.66,333.55 194.17,332.69 196.68,331.82 199.19,330.95 201.7,330.06 204.22,329.16 206.73,328.26 209.24,327.35 211.75,326.42 214.26,325.49 216.78,324.55 219.29,323.6 221.8,322.64 224.31,321.67 226.82,320.69 229.34,319.7 231.85,318.7 234.36,317.7 236.87,316.68 239.38,315.65 241.9,314.62 244.41,313.58 246.92,312.52 249.43,311.46 251.94,310.39 254.46,309.31 256.97,308.22 259.48,307.12 261.99,306.01 264.5,304.9 267.02,303.77 269.53,302.64 272.04,301.49 274.55,300.34 277.06,299.18 279.58,298 282.09,296.82 284.6,295.63" fill="none" stroke="#ec4660" stroke-width="1.25" stroke-dasharray="3.6 2.6" stroke-linejoin="round"/>
<polyline points="33.4,372.59 35.91,372.2 38.42,371.81 40.94,371.42 43.45,371.02 45.96,370.62 48.47,370.22 50.98,369.81 53.5,369.41 56.01,369 58.52,368.58 61.03,368.16 63.54,367.74 66.06,367.32 68.57,366.89 71.08,366.46 73.59,366.02 76.1,365.58 78.62,365.14 81.13,364.69 83.64,364.24 86.15,363.78 88.66,363.32 91.18,362.86 93.69,362.39 96.2,361.92 98.71,361.44 101.22,360.96 103.74,360.47 106.25,359.98 108.76,359.48 111.27,358.98 113.78,358.48 116.3,357.97 118.81,357.45 121.32,356.93 123.83,356.4 126.34,355.87 128.86,355.33 131.37,354.79 133.88,354.24 136.39,353.69 138.9,353.13 141.42,352.56 143.93,351.99 146.44,351.42 148.95,350.83 151.46,350.24 153.98,349.65 156.49,349.04 159,348.44 161.51,347.82 164.02,347.2 166.54,346.57 169.05,345.94 171.56,345.3 174.07,344.65 176.58,343.99 179.1,343.33 181.61,342.66 184.12,341.99 186.63,341.3 189.14,340.61 191.66,339.91 194.17,339.21 196.68,338.5 199.19,337.78 201.7,337.05 204.22,336.31 206.73,335.57 209.24,334.82 211.75,334.06 214.26,333.29 216.78,332.51 219.29,331.73 221.8,330.94 224.31,330.14 226.82,329.33 229.34,328.51 231.85,327.68 234.36,326.85 236.87,326.01 239.38,325.15 241.9,324.29 244.41,323.42 246.92,322.54 249.43,321.65 251.94,320.76 254.46,319.85 256.97,318.93 259.48,318.01 261.99,317.07 264.5,316.13 267.02,315.17 269.53,314.21 272.04,313.23 274.55,312.25 277.06,311.25 279.58,310.25 282.09,309.24 284.6,308.21" fill="none" stroke="#ec4660" stroke-width="1.25" stroke-dasharray="3.6 2.6" stroke-linejoin="round"/>
<polyline points="34.6,368.6 36.6,369.6 38.1,370.7 40.2,368.8 43.2,369.4 47.3,369.1 50.9,367.4 53.5,369.1 56,367.6 58.6,368.1 62.7,367.6 66.2,364.8 69.8,365.8 72.9,365 75.9,364.5 80,364.3 83.1,363.7 86.2,362.7 89.2,362.5 93.3,361.7 97.4,360.4 100,359.3 104.1,358.6 106.6,360.4 110.2,358.6 115.8,355.8 118.4,358.8 120.9,354.7 124.5,354.2 127.6,352.7 132.7,351.7 137.8,350.5 142.9,349.6 147,350.7 150.1,349.6 153.1,346.4 156.2,348.1 159.3,346.4 164.4,344.3 168.8,343.2 173.5,341.1 176.4,342.7 180.2,341.3 184.9,338.9 187.3,338.9 190.6,335.8 193.9,337.7 198.7,333.2 203,332.8 207.7,332 210.5,331.3 214.3,329.3 216.7,330.1 219.6,328.5 221.7,325.2" fill="none" stroke="#45c845" stroke-width="1.5" stroke-linejoin="round"/>
</g>
<line x1="33.4" y1="372.2" x2="33.4" y2="368.9" stroke="#262626" stroke-width="1.3"/>
<line x1="33.4" y1="281.8" x2="33.4" y2="285.1" stroke="#262626" stroke-width="1.3"/>
<line x1="83.64" y1="372.2" x2="83.64" y2="368.9" stroke="#262626" stroke-width="1.3"/>
<line x1="83.64" y1="281.8" x2="83.64" y2="285.1" stroke="#262626" stroke-width="1.3"/>
<line x1="133.88" y1="372.2" x2="133.88" y2="368.9" stroke="#262626" stroke-width="1.3"/>
<line x1="133.88" y1="281.8" x2="133.88" y2="285.1" stroke="#262626" stroke-width="1.3"/>
<line x1="184.12" y1="372.2" x2="184.12" y2="368.9" stroke="#262626" stroke-width="1.3"/>
<line x1="184.12" y1="281.8" x2="184.12" y2="285.1" stroke="#262626" stroke-width="1.3"/>
<line x1="234.36" y1="372.2" x2="234.36" y2="368.9" stroke="#262626" stroke-width="1.3"/>
<line x1="234.36" y1="281.8" x2="234.36" y2="285.1" stroke="#262626" stroke-width="1.3"/>
<line x1="284.6" y1="372.2" x2="284.6" y2="368.9" stroke="#262626" stroke-width="1.3"/>
<line x1="284.6" y1="281.8" x2="284.6" y2="285.1" stroke="#262626" stroke-width="1.3"/>
<line x1="33.4" y1="368.5" x2="36.7" y2="368.5" stroke="#262626" stroke-width="1.3"/>
<line x1="284.6" y1="368.5" x2="281.3" y2="368.5" stroke="#262626" stroke-width="1.3"/>
<line x1="33.4" y1="346.82" x2="36.7" y2="346.82" stroke="#262626" stroke-width="1.3"/>
<line x1="284.6" y1="346.82" x2="281.3" y2="346.82" stroke="#262626" stroke-width="1.3"/>
<line x1="33.4" y1="325.15" x2="36.7" y2="325.15" stroke="#262626" stroke-width="1.3"/>
<line x1="284.6" y1="325.15" x2="281.3" y2="325.15" stroke="#262626" stroke-width="1.3"/>
<line x1="33.4" y1="303.47" x2="36.7" y2="303.47" stroke="#262626" stroke-width="1.3"/>
<line x1="284.6" y1="303.47" x2="281.3" y2="303.47" stroke="#262626" stroke-width="1.3"/>
<line x1="33.4" y1="281.8" x2="36.7" y2="281.8" stroke="#262626" stroke-width="1.3"/>
<line x1="284.6" y1="281.8" x2="281.3" y2="281.8" stroke="#262626" stroke-width="1.3"/>
<rect x="33.4" y="281.8" width="251.2" height="90.4" fill="none" stroke="#262626" stroke-width="1.35"/>
<text x="33.4" y="383.3" font-size="9.8" font-weight="bold" text-anchor="middle" fill="#1a1a1a" font-family='"Liberation Sans", sans-serif' textLength="5.07" lengthAdjust="spacingAndGlyphs" stroke="#1a1a1a" stroke-width="0.25">0</text>
<text x="83.64" y="383.3" font-size="9.8" font-weight="bold" text-anchor="middle" fill="#1a1a1a" font-family='"Liberation Sans", sans-serif' textLength="10.14" lengthAdjust="spacingAndGlyphs" stroke="#1a1a1a" stroke-width="0.25">20</text>
<text x="133.88" y="383.3" font-size="9.8" font-weight="bold" text-anchor="middle" fill="#1a1a1a" font-family='"Liberation Sans", sans-serif' textLength="10.14" lengthAdjust="spacingAndGlyphs" stroke="#1a1a1a" stroke-width="0.25">40</text>
<text x="184.12" y="383.3" font-size="9.8" font-weight="bold" text-anchor="middle" fill="#1a1a1a" font-family='"Liberation Sans", sans-serif' textLength="10.14" lengthAdjust="spacingAndGlyphs" stroke="#1a1a1a" stroke-width="0.25">60</text>
<text x="234.36" y="383.3" font-size="9.8" font-weight="bold" text-anchor="middle" fill="#1a1a1a" font-family='"Liberation Sans", sans-serif' textLength="10.14" lengthAdjust="spacingAndGlyphs" stroke="#1a1a1a" stroke-width="0.25">80</text>
<text x="284.6" y="383.3" font-size="9.8" font-weight="bold" text-anchor="middle" fill="#1a1a1a" font-family='"Liberation Sans", sans-serif' textLength="15.2" lengthAdjust="spacingAndGlyphs" stroke="#1a1a1a" stroke-width="0.25">100</text>
<text x="30.2" y="372.1" font-size="9.8" font-weight="bold" text-anchor="end" fill="#1a1a1a" font-family='"Liberation Sans", sans-serif' textLength="5.07" lengthAdjust="spacingAndGlyphs" stroke="#1a1a1a" stroke-width="0.25">0</text>
<text x="30.2" y="350.42" font-size="9.8" font-weight="bold" text-anchor="end" fill="#1a1a1a" font-family='"Liberation Sans", sans-serif' textLength="12.67" lengthAdjust="spacingAndGlyphs" stroke="#1a1a1a" stroke-width="0.25">0.5</text>
<text x="30.2" y="328.75" font-size="9.8" font-weight="bold" text-anchor="end" fill="#1a1a1a" font-family='"Liberation Sans", sans-serif' textLength="5.07" lengthAdjust="spacingAndGlyphs" stroke="#1a1a1a" stroke-width="0.25">1</text>
<text x="30.2" y="307.07" font-size="9.8" font-weight="bold" text-anchor="end" fill="#1a1a1a" font-family='"Liberation Sans", sans-serif' textLength="12.67" lengthAdjust="spacingAndGlyphs" stroke="#1a1a1a" stroke-width="0.25">1.5</text>
<text x="30.2" y="285.4" font-size="9.8" font-weight="bold" text-anchor="end" fill="#1a1a1a" font-family='"Liberation Sans", sans-serif' textLength="5.07" lengthAdjust="spacingAndGlyphs" stroke="#1a1a1a" stroke-width="0.25">2</text>
<rect x="41.4" y="287" width="121" height="49.4" fill="#fff" stroke="#333" stroke-width="1.1"/>
<line x1="44.4" y1="294.6" x2="75.6" y2="294.6" stroke="#3b3bdc" stroke-width="1.6"/>
<text x="78.4" y="297.9" font-size="9.0" font-weight="bold" text-anchor="start" fill="#1a1a1a" font-family='"Liberation Sans", sans-serif' textLength="81.4" lengthAdjust="spacingAndGlyphs" stroke="#1a1a1a" stroke-width="0.25">Degradation model</text>
<line x1="44.4" y1="306.2" x2="75.6" y2="306.2" stroke="#ec4660" stroke-width="1.45" stroke-dasharray="3.5 2.8"/>
<text x="78.4" y="309.5" font-size="9.0" font-weight="bold" text-anchor="start" fill="#1a1a1a" font-family='"Liberation Sans", sans-serif' textLength="82.1" lengthAdjust="spacingAndGlyphs" stroke="#1a1a1a" stroke-width="0.25">Confidence interval</text>
<line x1="44.4" y1="317.8" x2="75.6" y2="317.8" stroke="#45c845" stroke-width="1.6"/>
<text x="78.4" y="321.1" font-size="9.0" font-weight="bold" text-anchor="start" fill="#1a1a1a" font-family='"Liberation Sans", sans-serif' textLength="59.5" lengthAdjust="spacingAndGlyphs" stroke="#1a1a1a" stroke-width="0.25">Nonlinear CHI</text>
<line x1="44.4" y1="329.4" x2="75.6" y2="329.4" stroke="#ff3030" stroke-width="1.7"/>
<text x="78.4" y="332.7" font-size="9.0" font-weight="bold" text-anchor="start" fill="#1a1a1a" font-family='"Liberation Sans", sans-serif' textLength="41.5" lengthAdjust="spacingAndGlyphs" stroke="#1a1a1a" stroke-width="0.25">Threshold</text>
<text x="159" y="398" font-size="10" font-weight="bold" text-anchor="middle" fill="#1a1a1a" font-family='"Liberation Sans", sans-serif' textLength="25.6" lengthAdjust="spacingAndGlyphs" stroke="#1a1a1a" stroke-width="0.25">Cycle</text>
<text x="13.5" y="327.2" font-size="10" font-weight="bold" text-anchor="middle" fill="#1a1a1a" font-family='"Liberation Sans", sans-serif' textLength="69.5" lengthAdjust="spacingAndGlyphs" transform="rotate(-90 13.5 327.2)" stroke="#1a1a1a" stroke-width="0.25">Nonlinear CHI</text>
<clipPath id="c6"><rect x="33.6" y="408.4" width="251" height="91.1"/></clipPath>
<polygon points="61.4,499.5 61.4,481.55 61.6,481.14 62.1,480.06 62.6,478.93 63.1,477.77 63.6,476.57 64.1,475.32 64.6,474.03 65.1,472.71 65.6,471.34 66.1,469.94 66.6,468.5 67.1,467.03 67.6,465.53 68.1,463.99 68.6,462.43 69.1,460.84 69.6,459.23 70.1,457.6 70.6,455.95 71.1,454.29 71.6,452.63 72.1,450.96 72.6,449.29 73.1,447.62 73.6,445.96 74.1,444.32 74.6,442.7 75.1,441.1 75.6,439.54 76.1,438.01 76.6,436.52 77.1,435.08 77.6,433.7 78.1,432.38 78.6,431.12 79.1,429.94 79.6,428.84 80.1,427.83 80.6,426.91 81.1,426.1 81.6,425.39 82.1,424.81 82.6,424.35 83.1,424.04 83.6,423.89 84.1,423.97 84.6,424.23 85.1,424.62 85.6,425.14 86.1,425.77 86.6,426.51 87.1,427.34 87.6,428.27 88.1,429.28 88.6,430.38 89.1,431.54 89.6,432.78 90.1,434.07 90.6,435.42 91.1,436.82 91.6,438.26 92.1,439.74 92.6,441.26 93.1,442.8 93.6,444.37 94.1,445.95 94.6,447.55 95.1,449.16 95.6,450.77 96.1,452.38 96.6,453.99 97.1,455.59 97.6,457.18 98.1,458.76 98.6,460.32 99.1,461.86 99.6,463.38 100.1,464.87 100.6,466.34 101.1,467.77 101.6,469.18 102.1,470.55 102.6,471.89 103.1,473.19 103.6,474.46 104.1,475.69 104.6,476.88 105.1,478.03 105.6,479.15 106,480.01 106,499.5" fill="#f9d5d0"/>
<g clip-path="url(#c6)">
<line x1="80.3" y1="499.5" x2="80.3" y2="427" stroke="#b84dff" stroke-width="1.4" stroke-dasharray="3.6 2.65"/>
<line x1="83.5" y1="499.5" x2="83.5" y2="423.92" stroke="#dd3a3a" stroke-width="1.4"/>
<polyline points="33.6,499.34 34.1,499.32 34.6,499.3 35.1,499.28 35.6,499.26 36.1,499.23 36.6,499.2 37.1,499.16 37.6,499.13 38.1,499.09 38.6,499.04 39.1,498.99 39.6,498.94 40.1,498.88 40.6,498.82 41.1,498.75 41.6,498.67 42.1,498.59 42.6,498.5 43.1,498.4 43.6,498.29 44.1,498.17 44.6,498.05 45.1,497.91 45.6,497.76 46.1,497.6 46.6,497.42 47.1,497.24 47.6,497.03 48.1,496.81 48.6,496.58 49.1,496.33 49.6,496.06 50.1,495.77 50.6,495.45 51.1,495.12 51.6,494.77 52.1,494.39 52.6,493.98 53.1,493.55 53.6,493.09 54.1,492.6 54.6,492.09 55.1,491.54 55.6,490.96 56.1,490.34 56.6,489.7 57.1,489.01 57.6,488.3 58.1,487.54 58.6,486.74 59.1,485.91 59.6,485.04 60.1,484.12 60.6,483.17 61.1,482.17 61.6,481.14 62.1,480.06 62.6,478.93 63.1,477.77 63.6,476.57 64.1,475.32 64.6,474.03 65.1,472.71 65.6,471.34 66.1,469.94 66.6,468.5 67.1,467.03 67.6,465.53 68.1,463.99 68.6,462.43 69.1,460.84 69.6,459.23 70.1,457.6 70.6,455.95 71.1,454.29 71.6,452.63 72.1,450.96 72.6,449.29 73.1,447.62 73.6,445.96 74.1,444.32 74.6,442.7 75.1,441.1 75.6,439.54 76.1,438.01 76.6,436.52 77.1,435.08 77.6,433.7 78.1,432.38 78.6,431.12 79.1,429.94 79.6,428.84 80.1,427.83 80.6,426.91 81.1,426.1 81.6,425.39 82.1,424.81 82.6,424.35 83.1,424.04 83.6,423.89 84.1,423.97 84.6,424.23 85.1,424.62 85.6,425.14 86.1,425.77 86.6,426.51 87.1,427.34 87.6,428.27 88.1,429.28 88.6,430.38 89.1,431.54 89.6,432.78 90.1,434.07 90.6,435.42 91.1,436.82 91.6,438.26 92.1,439.74 92.6,441.26 93.1,442.8 93.6,444.37 94.1,445.95 94.6,447.55 95.1,449.16 95.6,450.77 96.1,452.38 96.6,453.99 97.1,455.59 97.6,457.18 98.1,458.76 98.6,460.32 99.1,461.86 99.6,463.38 100.1,464.87 100.6,466.34 101.1,467.77 101.6,469.18 102.1,470.55 102.6,471.89 103.1,473.19 103.6,474.46 104.1,475.69 104.6,476.88 105.1,478.03 105.6,479.15 106.1,480.22 106.6,481.26 107.1,482.26 107.6,483.21 108.1,484.13 108.6,485.02 109.1,485.86 109.6,486.67 110.1,487.44 110.6,488.17 111.1,488.87 111.6,489.54 112.1,490.17 112.6,490.78 113.1,491.35 113.6,491.89 114.1,492.4 114.6,492.88 115.1,493.33 115.6,493.76 116.1,494.17 116.6,494.55 117.1,494.9 117.6,495.24 118.1,495.55 118.6,495.85 119.1,496.12 119.6,496.38 120.1,496.62 120.6,496.85 121.1,497.05 121.6,497.25 122.1,497.43 122.6,497.6 123.1,497.75 123.6,497.9 124.1,498.03 124.6,498.16 125.1,498.27 125.6,498.38 126.1,498.47 126.6,498.56 127.1,498.65 127.6,498.72 128.1,498.79 128.6,498.86 129.1,498.91 129.6,498.97 130.1,499.02 130.6,499.06 131.1,499.1 131.6,499.14 132.1,499.18 132.6,499.21 133.1,499.24 133.6,499.26 134.1,499.29 134.6,499.31 135.1,499.33 135.6,499.34 136.1,499.36 136.6,499.37 137.1,499.39 137.6,499.4 138.1,499.41 138.6,499.42 139.1,499.43 139.6,499.44 140.1,499.44 140.6,499.45 141.1,499.45 141.6,499.46 142.1,499.46 142.6,499.47 143.1,499.47 143.6,499.47 144.1,499.48 144.6,499.48 145.1,499.48 145.6,499.48 146.1,499.49 146.6,499.49 147.1,499.49 147.6,499.49 148.1,499.49 148.6,499.49 149.1,499.49 149.6,499.49 150.1,499.5 150.6,499.5 151.1,499.5 151.6,499.5 152.1,499.5 152.6,499.5 153.1,499.5 153.6,499.5 154.1,499.5 154.6,499.5 155.1,499.5 155.6,499.5 156.1,499.5 156.6,499.5 157.1,499.5 157.6,499.5 158.1,499.5 158.6,499.5 159.1,499.5 159.6,499.5 160.1,499.5 160.6,499.5 161.1,499.5 161.6,499.5 162.1,499.5 162.6,499.5 163.1,499.5 163.6,499.5 164.1,499.5 164.6,499.5 165.1,499.5 165.6,499.5 166.1,499.5 166.6,499.5 167.1,499.5 167.6,499.5 168.1,499.5 168.6,499.5 169.1,499.5 169.6,499.5 170.1,499.5 170.6,499.5 171.1,499.5 171.6,499.5 172.1,499.5 172.6,499.5 173.1,499.5 173.6,499.5 174.1,499.5 174.6,499.5 175.1,499.5 175.6,499.5 176.1,499.5 176.6,499.5 177.1,499.5 177.6,499.5 178.1,499.5 178.6,499.5 179.1,499.5 179.6,499.5 180.1,499.5 180.6,499.5 181.1,499.5 181.6,499.5 182.1,499.5 182.6,499.5 183.1,499.5 183.6,499.5 184.1,499.5 184.6,499.5 185.1,499.5 185.6,499.5 186.1,499.5 186.6,499.5 187.1,499.5 187.6,499.5 188.1,499.5 188.6,499.5 189.1,499.5 189.6,499.5 190.1,499.5 190.6,499.5 191.1,499.5 191.6,499.5 192.1,499.5 192.6,499.5 193.1,499.5 193.6,499.5 194.1,499.5 194.6,499.5 195.1,499.5 195.6,499.5 196.1,499.5 196.6,499.5 197.1,499.5 197.6,499.5 198.1,499.5 198.6,499.5 199.1,499.5 199.6,499.5 200.1,499.5 200.6,499.5 201.1,499.5 201.6,499.5 202.1,499.5 202.6,499.5 203.1,499.5 203.6,499.5 204.1,499.5 204.6,499.5 205.1,499.5 205.6,499.5 206.1,499.5 206.6,499.5 207.1,499.5 207.6,499.5 208.1,499.5 208.6,499.5 209.1,499.5 209.6,499.5 210.1,499.5 210.6,499.5 211.1,499.5 211.6,499.5 212.1,499.5 212.6,499.5 213.1,499.5 213.6,499.5 214.1,499.5 214.6,499.5 215.1,499.5 215.6,499.5 216.1,499.5 216.6,499.5 217.1,499.5 217.6,499.5 218.1,499.5 218.6,499.5 219.1,499.5 219.6,499.5 220.1,499.5 220.6,499.5 221.1,499.5 221.6,499.5 222.1,499.5 222.6,499.5 223.1,499.5 223.6,499.5 224.1,499.5 224.6,499.5 225.1,499.5 225.6,499.5 226.1,499.5 226.6,499.5 227.1,499.5 227.6,499.5 228.1,499.5 228.6,499.5 229.1,499.5 229.6,499.5 230.1,499.5 230.6,499.5 231.1,499.5 231.6,499.5 232.1,499.5 232.6,499.5 233.1,499.5 233.6,499.5 234.1,499.5 234.6,499.5 235.1,499.5 235.6,499.5 236.1,499.5 236.6,499.5 237.1,499.5 237.6,499.5 238.1,499.5 238.6,499.5 239.1,499.5 239.6,499.5 240.1,499.5 240.6,499.5 241.1,499.5 241.6,499.5 242.1,499.5 242.6,499.5 243.1,499.5 243.6,499.5 244.1,499.5 244.6,499.5 245.1,499.5 245.6,499.5 246.1,499.5 246.6,499.5 247.1,499.5 247.6,499.5 248.1,499.5 248.6,499.5 249.1,499.5 249.6,499.5 250.1,499.5 250.6,499.5 251.1,499.5 251.6,499.5 252.1,499.5 252.6,499.5 253.1,499.5 253.6,499.5 254.1,499.5 254.6,499.5 255.1,499.5 255.6,499.5 256.1,499.5 256.6,499.5 257.1,499.5 257.6,499.5 258.1,499.5" fill="none" stroke="#1872c0" stroke-width="1.5" stroke-linejoin="round"/>
</g>
<line x1="33.6" y1="499.5" x2="33.6" y2="496.2" stroke="#262626" stroke-width="1.3"/>
<line x1="33.6" y1="408.4" x2="33.6" y2="411.7" stroke="#262626" stroke-width="1.3"/>
<line x1="69.46" y1="499.5" x2="69.46" y2="496.2" stroke="#262626" stroke-width="1.3"/>
<line x1="69.46" y1="408.4" x2="69.46" y2="411.7" stroke="#262626" stroke-width="1.3"/>
<line x1="105.31" y1="499.5" x2="105.31" y2="496.2" stroke="#262626" stroke-width="1.3"/>
<line x1="105.31" y1="408.4" x2="105.31" y2="411.7" stroke="#262626" stroke-width="1.3"/>
<line x1="141.17" y1="499.5" x2="141.17" y2="496.2" stroke="#262626" stroke-width="1.3"/>
<line x1="141.17" y1="408.4" x2="141.17" y2="411.7" stroke="#262626" stroke-width="1.3"/>
<line x1="177.03" y1="499.5" x2="177.03" y2="496.2" stroke="#262626" stroke-width="1.3"/>
<line x1="177.03" y1="408.4" x2="177.03" y2="411.7" stroke="#262626" stroke-width="1.3"/>
<line x1="212.89" y1="499.5" x2="212.89" y2="496.2" stroke="#262626" stroke-width="1.3"/>
<line x1="212.89" y1="408.4" x2="212.89" y2="411.7" stroke="#262626" stroke-width="1.3"/>
<line x1="248.74" y1="499.5" x2="248.74" y2="496.2" stroke="#262626" stroke-width="1.3"/>
<line x1="248.74" y1="408.4" x2="248.74" y2="411.7" stroke="#262626" stroke-width="1.3"/>
<line x1="284.6" y1="499.5" x2="284.6" y2="496.2" stroke="#262626" stroke-width="1.3"/>
<line x1="284.6" y1="408.4" x2="284.6" y2="411.7" stroke="#262626" stroke-width="1.3"/>
<line x1="33.6" y1="499.5" x2="36.9" y2="499.5" stroke="#262626" stroke-width="1.3"/>
<line x1="284.6" y1="499.5" x2="281.3" y2="499.5" stroke="#262626" stroke-width="1.3"/>
<line x1="33.6" y1="476.73" x2="36.9" y2="476.73" stroke="#262626" stroke-width="1.3"/>
<line x1="284.6" y1="476.73" x2="281.3" y2="476.73" stroke="#262626" stroke-width="1.3"/>
<line x1="33.6" y1="453.95" x2="36.9" y2="453.95" stroke="#262626" stroke-width="1.3"/>
<line x1="284.6" y1="453.95" x2="281.3" y2="453.95" stroke="#262626" stroke-width="1.3"/>
<line x1="33.6" y1="431.17" x2="36.9" y2="431.17" stroke="#262626" stroke-width="1.3"/>
<line x1="284.6" y1="431.17" x2="281.3" y2="431.17" stroke="#262626" stroke-width="1.3"/>
<line x1="33.6" y1="408.4" x2="36.9" y2="408.4" stroke="#262626" stroke-width="1.3"/>
<line x1="284.6" y1="408.4" x2="281.3" y2="408.4" stroke="#262626" stroke-width="1.3"/>
<rect x="33.6" y="408.4" width="251" height="91.1" fill="none" stroke="#262626" stroke-width="1.35"/>
<text x="33.6" y="510.6" font-size="9.8" font-weight="bold" text-anchor="middle" fill="#1a1a1a" font-family='"Liberation Sans", sans-serif' textLength="5.07" lengthAdjust="spacingAndGlyphs" stroke="#1a1a1a" stroke-width="0.25">0</text>
<text x="69.46" y="510.6" font-size="9.8" font-weight="bold" text-anchor="middle" fill="#1a1a1a" font-family='"Liberation Sans", sans-serif' textLength="10.14" lengthAdjust="spacingAndGlyphs" stroke="#1a1a1a" stroke-width="0.25">20</text>
<text x="105.31" y="510.6" font-size="9.8" font-weight="bold" text-anchor="middle" fill="#1a1a1a" font-family='"Liberation Sans", sans-serif' textLength="10.14" lengthAdjust="spacingAndGlyphs" stroke="#1a1a1a" stroke-width="0.25">40</text>
<text x="141.17" y="510.6" font-size="9.8" font-weight="bold" text-anchor="middle" fill="#1a1a1a" font-family='"Liberation Sans", sans-serif' textLength="10.14" lengthAdjust="spacingAndGlyphs" stroke="#1a1a1a" stroke-width="0.25">60</text>
<text x="177.03" y="510.6" font-size="9.8" font-weight="bold" text-anchor="middle" fill="#1a1a1a" font-family='"Liberation Sans", sans-serif' textLength="10.14" lengthAdjust="spacingAndGlyphs" stroke="#1a1a1a" stroke-width="0.25">80</text>
<text x="212.89" y="510.6" font-size="9.8" font-weight="bold" text-anchor="middle" fill="#1a1a1a" font-family='"Liberation Sans", sans-serif' textLength="15.2" lengthAdjust="spacingAndGlyphs" stroke="#1a1a1a" stroke-width="0.25">100</text>
<text x="248.74" y="510.6" font-size="9.8" font-weight="bold" text-anchor="middle" fill="#1a1a1a" font-family='"Liberation Sans", sans-serif' textLength="15.2" lengthAdjust="spacingAndGlyphs" stroke="#1a1a1a" stroke-width="0.25">120</text>
<text x="284.6" y="510.6" font-size="9.8" font-weight="bold" text-anchor="middle" fill="#1a1a1a" font-family='"Liberation Sans", sans-serif' textLength="15.2" lengthAdjust="spacingAndGlyphs" stroke="#1a1a1a" stroke-width="0.25">140</text>
<text x="30.4" y="503.1" font-size="9.8" font-weight="bold" text-anchor="end" fill="#1a1a1a" font-family='"Liberation Sans", sans-serif' textLength="5.07" lengthAdjust="spacingAndGlyphs" stroke="#1a1a1a" stroke-width="0.25">0</text>
<text x="30.4" y="480.33" font-size="9.8" font-weight="bold" text-anchor="end" fill="#1a1a1a" font-family='"Liberation Sans", sans-serif' textLength="17.74" lengthAdjust="spacingAndGlyphs" stroke="#1a1a1a" stroke-width="0.25">0.01</text>
<text x="30.4" y="457.55" font-size="9.8" font-weight="bold" text-anchor="end" fill="#1a1a1a" font-family='"Liberation Sans", sans-serif' textLength="17.74" lengthAdjust="spacingAndGlyphs" stroke="#1a1a1a" stroke-width="0.25">0.02</text>
<text x="30.4" y="434.77" font-size="9.8" font-weight="bold" text-anchor="end" fill="#1a1a1a" font-family='"Liberation Sans", sans-serif' textLength="17.74" lengthAdjust="spacingAndGlyphs" stroke="#1a1a1a" stroke-width="0.25">0.03</text>
<text x="30.4" y="412" font-size="9.8" font-weight="bold" text-anchor="end" fill="#1a1a1a" font-family='"Liberation Sans", sans-serif' textLength="17.74" lengthAdjust="spacingAndGlyphs" stroke="#1a1a1a" stroke-width="0.25">0.04</text>
<rect x="155.4" y="413.6" width="121.2" height="50" fill="#fff" stroke="#333" stroke-width="1.1"/>
<line x1="158.6" y1="421" x2="189.4" y2="421" stroke="#1872c0" stroke-width="1.5"/>
<text x="192.4" y="424.3" font-size="9.0" font-weight="bold" text-anchor="start" fill="#1a1a1a" font-family='"Liberation Sans", sans-serif' textLength="46.8" lengthAdjust="spacingAndGlyphs" stroke="#1a1a1a" stroke-width="0.25">PDF of RUL</text>
<line x1="158.6" y1="432.8" x2="189.4" y2="432.8" stroke="#dd3a3a" stroke-width="1.5"/>
<text x="192.4" y="436.1" font-size="9.0" font-weight="bold" text-anchor="start" fill="#1a1a1a" font-family='"Liberation Sans", sans-serif' textLength="58.6" lengthAdjust="spacingAndGlyphs" stroke="#1a1a1a" stroke-width="0.25">Predicted RUL</text>
<line x1="158.6" y1="444.6" x2="189.4" y2="444.6" stroke="#b84dff" stroke-width="1.5" stroke-dasharray="3.5 2.8"/>
<text x="192.4" y="447.9" font-size="9.0" font-weight="bold" text-anchor="start" fill="#1a1a1a" font-family='"Liberation Sans", sans-serif' textLength="45.6" lengthAdjust="spacingAndGlyphs" stroke="#1a1a1a" stroke-width="0.25">Actual RUL</text>
<rect x="158.6" y="452.4" width="30.8" height="7.8" fill="#f9d5d0"/>
<text x="192.4" y="459.5" font-size="9.0" font-weight="bold" text-anchor="start" fill="#1a1a1a" font-family='"Liberation Sans", sans-serif' textLength="81.3" lengthAdjust="spacingAndGlyphs" stroke="#1a1a1a" stroke-width="0.25">Confidence interval</text>
<text x="159.1" y="524.8" font-size="10" font-weight="bold" text-anchor="middle" fill="#1a1a1a" font-family='"Liberation Sans", sans-serif' textLength="25.6" lengthAdjust="spacingAndGlyphs" stroke="#1a1a1a" stroke-width="0.25">Cycle</text>
<text x="8.6" y="453.4" font-size="10.2" font-weight="bold" text-anchor="middle" fill="#1a1a1a" font-family='"Liberation Sans", sans-serif' textLength="55" lengthAdjust="spacingAndGlyphs" transform="rotate(-90 8.6 453.4)" stroke="#1a1a1a" stroke-width="0.25">PDF of RUL</text>
<clipPath id="c7"><rect x="423.6" y="282" width="253.4" height="90.6"/></clipPath>
<g clip-path="url(#c7)">
<polyline points="423.6,300.01 677,300.01" fill="none" stroke="#ff3030" stroke-width="1.6" stroke-linejoin="round"/>
<polyline points="423.6,371.87 426.13,371.51 428.67,371.15 431.2,370.79 433.74,370.41 436.27,370.04 438.8,369.65 441.34,369.26 443.87,368.86 446.41,368.46 448.94,368.05 451.47,367.63 454.01,367.21 456.54,366.78 459.08,366.34 461.61,365.9 464.14,365.45 466.68,365 469.21,364.54 471.75,364.07 474.28,363.59 476.81,363.11 479.35,362.62 481.88,362.13 484.42,361.63 486.95,361.12 489.48,360.6 492.02,360.08 494.55,359.55 497.09,359.02 499.62,358.47 502.15,357.92 504.69,357.37 507.22,356.8 509.76,356.23 512.29,355.66 514.82,355.07 517.36,354.48 519.89,353.88 522.43,353.28 524.96,352.67 527.49,352.05 530.03,351.42 532.56,350.79 535.1,350.14 537.63,349.5 540.16,348.84 542.7,348.18 545.23,347.51 547.77,346.83 550.3,346.14 552.83,345.45 555.37,344.75 557.9,344.04 560.44,343.33 562.97,342.61 565.5,341.88 568.04,341.14 570.57,340.4 573.11,339.64 575.64,338.88 578.17,338.11 580.71,337.34 583.24,336.55 585.78,335.76 588.31,334.96 590.84,334.16 593.38,333.34 595.91,332.52 598.45,331.69 600.98,330.85 603.51,330.01 606.05,329.15 608.58,328.29 611.12,327.42 613.65,326.54 616.18,325.66 618.72,324.76 621.25,323.86 623.79,322.95 626.32,322.03 628.85,321.1 631.39,320.17 633.92,319.23 636.46,318.27 638.99,317.31 641.52,316.35 644.06,315.37 646.59,314.38 649.13,313.39 651.66,312.39 654.19,311.38 656.73,310.36 659.26,309.33 661.8,308.3 664.33,307.25 666.86,306.2 669.4,305.14 671.93,304.07 674.47,302.99 677,301.9" fill="none" stroke="#3b3bdc" stroke-width="1.1" stroke-linejoin="round"/>
<polyline points="423.6,371.13 426.13,370.78 428.67,370.42 431.2,370.06 433.74,369.69 436.27,369.31 438.8,368.93 441.34,368.54 443.87,368.14 446.41,367.74 448.94,367.33 451.47,366.91 454.01,366.48 456.54,366.05 459.08,365.61 461.61,365.16 464.14,364.7 466.68,364.24 469.21,363.77 471.75,363.29 474.28,362.81 476.81,362.32 479.35,361.82 481.88,361.31 484.42,360.79 486.95,360.27 489.48,359.74 492.02,359.2 494.55,358.66 497.09,358.1 499.62,357.54 502.15,356.97 504.69,356.4 507.22,355.81 509.76,355.22 512.29,354.62 514.82,354.01 517.36,353.4 519.89,352.77 522.43,352.14 524.96,351.5 527.49,350.85 530.03,350.19 532.56,349.53 535.1,348.85 537.63,348.17 540.16,347.48 542.7,346.79 545.23,346.08 547.77,345.36 550.3,344.64 552.83,343.91 555.37,343.17 557.9,342.42 560.44,341.66 562.97,340.9 565.5,340.12 568.04,339.34 570.57,338.55 573.11,337.75 575.64,336.94 578.17,336.12 580.71,335.29 583.24,334.46 585.78,333.61 588.31,332.76 590.84,331.9 593.38,331.03 595.91,330.15 598.45,329.26 600.98,328.36 603.51,327.45 606.05,326.53 608.58,325.61 611.12,324.67 613.65,323.73 616.18,322.77 618.72,321.81 621.25,320.84 623.79,319.86 626.32,318.87 628.85,317.86 631.39,316.85 633.92,315.84 636.46,314.81 638.99,313.77 641.52,312.72 644.06,311.66 646.59,310.59 649.13,309.52 651.66,308.43 654.19,307.33 656.73,306.23 659.26,305.11 661.8,303.98 664.33,302.85 666.86,301.7 669.4,300.55 671.93,299.38 674.47,298.2 677,297.02" fill="none" stroke="#ec4660" stroke-width="1.25" stroke-dasharray="3.6 2.6" stroke-linejoin="round"/>
<polyline points="423.6,372.65 426.13,372.3 428.67,371.94 431.2,371.58 433.74,371.21 436.27,370.84 438.8,370.46 441.34,370.08 443.87,369.69 446.41,369.29 448.94,368.89 451.47,368.48 454.01,368.07 456.54,367.65 459.08,367.23 461.61,366.8 464.14,366.36 466.68,365.92 469.21,365.48 471.75,365.03 474.28,364.57 476.81,364.1 479.35,363.63 481.88,363.16 484.42,362.68 486.95,362.19 489.48,361.7 492.02,361.2 494.55,360.69 497.09,360.18 499.62,359.66 502.15,359.14 504.69,358.61 507.22,358.07 509.76,357.53 512.29,356.99 514.82,356.43 517.36,355.87 519.89,355.3 522.43,354.73 524.96,354.15 527.49,353.57 530.03,352.98 532.56,352.38 535.1,351.77 537.63,351.16 540.16,350.55 542.7,349.92 545.23,349.29 547.77,348.66 550.3,348.01 552.83,347.36 555.37,346.71 557.9,346.04 560.44,345.37 562.97,344.7 565.5,344.02 568.04,343.33 570.57,342.63 573.11,341.93 575.64,341.22 578.17,340.5 580.71,339.78 583.24,339.05 585.78,338.31 588.31,337.57 590.84,336.82 593.38,336.06 595.91,335.3 598.45,334.52 600.98,333.75 603.51,332.96 606.05,332.17 608.58,331.37 611.12,330.56 613.65,329.75 616.18,328.93 618.72,328.1 621.25,327.26 623.79,326.42 626.32,325.57 628.85,324.71 631.39,323.85 633.92,322.98 636.46,322.1 638.99,321.21 641.52,320.32 644.06,319.42 646.59,318.51 649.13,317.59 651.66,316.67 654.19,315.74 656.73,314.8 659.26,313.85 661.8,312.9 664.33,311.94 666.86,310.97 669.4,309.99 671.93,309.01 674.47,308.01 677,307.01" fill="none" stroke="#ec4660" stroke-width="1.25" stroke-dasharray="3.6 2.6" stroke-linejoin="round"/>
<polyline points="424.6,368.2 426.6,369.7 428.6,371 430.7,369.2 434.3,369.5 437.3,369 440.9,367.5 442.9,368.7 446.5,367.5 449.1,368.2 452.7,367.7 456.7,365.1 459.8,365.7 463.9,365.5 467,364.6 471,364.8 475.1,363.1 477.7,363.8 481.3,362.4 485.4,361.8 489.4,360.5 492,360 494.1,359.3 497.2,360.9 501.2,358 506.3,356 509.4,359 512,355.8 517.6,352.9 521.7,353.9 525.8,352.2 530.9,350.7 535,349.1 538,350.1 542.1,350.7 545.7,347.1 548.2,348.4 551.3,346.8 555.4,345 557,345.6 561.1,344.6 565.2,342.2 568.3,343 571.4,340.8 575.4,339.5 578.5,338.9 582.1,336.4 585.7,338.4 590.8,333.6 595.9,332.8 601,331.8 605.1,330.3 609.2,328.7 611.7,329.2 614.1,325.5 616.3,329.2 619.4,326.2 624.4,322.8 627,322 629.2,323.1 634,317.8 637.5,318.5 641.5,314.7 644.1,316.3 648,314.1 654.2,312.3 657.2,308.4 660.3,308 664.7,306.6" fill="none" stroke="#45c845" stroke-width="1.5" stroke-linejoin="round"/>
</g>
<line x1="423.6" y1="372.6" x2="423.6" y2="369.3" stroke="#262626" stroke-width="1.3"/>
<line x1="423.6" y1="282" x2="423.6" y2="285.3" stroke="#262626" stroke-width="1.3"/>
<line x1="474.28" y1="372.6" x2="474.28" y2="369.3" stroke="#262626" stroke-width="1.3"/>
<line x1="474.28" y1="282" x2="474.28" y2="285.3" stroke="#262626" stroke-width="1.3"/>
<line x1="524.96" y1="372.6" x2="524.96" y2="369.3" stroke="#262626" stroke-width="1.3"/>
<line x1="524.96" y1="282" x2="524.96" y2="285.3" stroke="#262626" stroke-width="1.3"/>
<line x1="575.64" y1="372.6" x2="575.64" y2="369.3" stroke="#262626" stroke-width="1.3"/>
<line x1="575.64" y1="282" x2="575.64" y2="285.3" stroke="#262626" stroke-width="1.3"/>
<line x1="626.32" y1="372.6" x2="626.32" y2="369.3" stroke="#262626" stroke-width="1.3"/>
<line x1="626.32" y1="282" x2="626.32" y2="285.3" stroke="#262626" stroke-width="1.3"/>
<line x1="677" y1="372.6" x2="677" y2="369.3" stroke="#262626" stroke-width="1.3"/>
<line x1="677" y1="282" x2="677" y2="285.3" stroke="#262626" stroke-width="1.3"/>
<line x1="423.6" y1="368.8" x2="426.9" y2="368.8" stroke="#262626" stroke-width="1.3"/>
<line x1="677" y1="368.8" x2="673.7" y2="368.8" stroke="#262626" stroke-width="1.3"/>
<line x1="423.6" y1="347.1" x2="426.9" y2="347.1" stroke="#262626" stroke-width="1.3"/>
<line x1="677" y1="347.1" x2="673.7" y2="347.1" stroke="#262626" stroke-width="1.3"/>
<line x1="423.6" y1="325.4" x2="426.9" y2="325.4" stroke="#262626" stroke-width="1.3"/>
<line x1="677" y1="325.4" x2="673.7" y2="325.4" stroke="#262626" stroke-width="1.3"/>
<line x1="423.6" y1="303.7" x2="426.9" y2="303.7" stroke="#262626" stroke-width="1.3"/>
<line x1="677" y1="303.7" x2="673.7" y2="303.7" stroke="#262626" stroke-width="1.3"/>
<line x1="423.6" y1="282" x2="426.9" y2="282" stroke="#262626" stroke-width="1.3"/>
<line x1="677" y1="282" x2="673.7" y2="282" stroke="#262626" stroke-width="1.3"/>
<rect x="423.6" y="282" width="253.4" height="90.6" fill="none" stroke="#262626" stroke-width="1.35"/>
<text x="423.6" y="383.7" font-size="9.8" font-weight="bold" text-anchor="middle" fill="#1a1a1a" font-family='"Liberation Sans", sans-serif' textLength="5.07" lengthAdjust="spacingAndGlyphs" stroke="#1a1a1a" stroke-width="0.25">0</text>
<text x="474.28" y="383.7" font-size="9.8" font-weight="bold" text-anchor="middle" fill="#1a1a1a" font-family='"Liberation Sans", sans-serif' textLength="10.14" lengthAdjust="spacingAndGlyphs" stroke="#1a1a1a" stroke-width="0.25">20</text>
<text x="524.96" y="383.7" font-size="9.8" font-weight="bold" text-anchor="middle" fill="#1a1a1a" font-family='"Liberation Sans", sans-serif' textLength="10.14" lengthAdjust="spacingAndGlyphs" stroke="#1a1a1a" stroke-width="0.25">40</text>
<text x="575.64" y="383.7" font-size="9.8" font-weight="bold" text-anchor="middle" fill="#1a1a1a" font-family='"Liberation Sans", sans-serif' textLength="10.14" lengthAdjust="spacingAndGlyphs" stroke="#1a1a1a" stroke-width="0.25">60</text>
<text x="626.32" y="383.7" font-size="9.8" font-weight="bold" text-anchor="middle" fill="#1a1a1a" font-family='"Liberation Sans", sans-serif' textLength="10.14" lengthAdjust="spacingAndGlyphs" stroke="#1a1a1a" stroke-width="0.25">80</text>
<text x="677" y="383.7" font-size="9.8" font-weight="bold" text-anchor="middle" fill="#1a1a1a" font-family='"Liberation Sans", sans-serif' textLength="15.2" lengthAdjust="spacingAndGlyphs" stroke="#1a1a1a" stroke-width="0.25">100</text>
<text x="420.4" y="372.4" font-size="9.8" font-weight="bold" text-anchor="end" fill="#1a1a1a" font-family='"Liberation Sans", sans-serif' textLength="5.07" lengthAdjust="spacingAndGlyphs" stroke="#1a1a1a" stroke-width="0.25">0</text>
<text x="420.4" y="350.7" font-size="9.8" font-weight="bold" text-anchor="end" fill="#1a1a1a" font-family='"Liberation Sans", sans-serif' textLength="12.67" lengthAdjust="spacingAndGlyphs" stroke="#1a1a1a" stroke-width="0.25">0.5</text>
<text x="420.4" y="329" font-size="9.8" font-weight="bold" text-anchor="end" fill="#1a1a1a" font-family='"Liberation Sans", sans-serif' textLength="5.07" lengthAdjust="spacingAndGlyphs" stroke="#1a1a1a" stroke-width="0.25">1</text>
<text x="420.4" y="307.3" font-size="9.8" font-weight="bold" text-anchor="end" fill="#1a1a1a" font-family='"Liberation Sans", sans-serif' textLength="12.67" lengthAdjust="spacingAndGlyphs" stroke="#1a1a1a" stroke-width="0.25">1.5</text>
<text x="420.4" y="285.6" font-size="9.8" font-weight="bold" text-anchor="end" fill="#1a1a1a" font-family='"Liberation Sans", sans-serif' textLength="5.07" lengthAdjust="spacingAndGlyphs" stroke="#1a1a1a" stroke-width="0.25">2</text>
<rect x="431.6" y="287.6" width="120.8" height="49.4" fill="#fff" stroke="#333" stroke-width="1.1"/>
<line x1="435" y1="295" x2="465.6" y2="295" stroke="#3b3bdc" stroke-width="1.6"/>
<text x="468.4" y="298.3" font-size="9.0" font-weight="bold" text-anchor="start" fill="#1a1a1a" font-family='"Liberation Sans", sans-serif' textLength="81.4" lengthAdjust="spacingAndGlyphs" stroke="#1a1a1a" stroke-width="0.25">Degradation model</text>
<line x1="435" y1="306.6" x2="465.6" y2="306.6" stroke="#ec4660" stroke-width="1.45" stroke-dasharray="3.5 2.8"/>
<text x="468.4" y="309.9" font-size="9.0" font-weight="bold" text-anchor="start" fill="#1a1a1a" font-family='"Liberation Sans", sans-serif' textLength="82.1" lengthAdjust="spacingAndGlyphs" stroke="#1a1a1a" stroke-width="0.25">Confidence interval</text>
<line x1="435" y1="318.2" x2="465.6" y2="318.2" stroke="#45c845" stroke-width="1.6"/>
<text x="468.4" y="321.5" font-size="9.0" font-weight="bold" text-anchor="start" fill="#1a1a1a" font-family='"Liberation Sans", sans-serif' textLength="59.5" lengthAdjust="spacingAndGlyphs" stroke="#1a1a1a" stroke-width="0.25">Nonlinear CHI</text>
<line x1="435" y1="329.8" x2="465.6" y2="329.8" stroke="#ff3030" stroke-width="1.7"/>
<text x="468.4" y="333.1" font-size="9.0" font-weight="bold" text-anchor="start" fill="#1a1a1a" font-family='"Liberation Sans", sans-serif' textLength="41.5" lengthAdjust="spacingAndGlyphs" stroke="#1a1a1a" stroke-width="0.25">Threshold</text>
<text x="550.3" y="398" font-size="10" font-weight="bold" text-anchor="middle" fill="#1a1a1a" font-family='"Liberation Sans", sans-serif' textLength="25.6" lengthAdjust="spacingAndGlyphs" stroke="#1a1a1a" stroke-width="0.25">Cycle</text>
<text x="404.5" y="327.4" font-size="10" font-weight="bold" text-anchor="middle" fill="#1a1a1a" font-family='"Liberation Sans", sans-serif' textLength="69.5" lengthAdjust="spacingAndGlyphs" transform="rotate(-90 404.5 327.4)" stroke="#1a1a1a" stroke-width="0.25">Nonlinear CHI</text>
<clipPath id="c8"><rect x="423.6" y="408.4" width="253.6" height="91.2"/></clipPath>
<polygon points="425.9,499.6 425.9,439.57 426.1,438.91 426.6,437.29 427.1,435.73 427.6,434.21 428.1,432.75 428.6,431.34 429.1,430 429.6,428.73 430.1,427.53 430.6,426.4 431.1,425.34 431.6,424.37 432.1,423.47 432.6,422.65 433.1,421.91 433.6,421.25 434.1,420.67 434.6,420.17 435.1,419.75 435.6,419.41 436.1,419.14 436.6,418.94 437.1,418.81 437.6,418.73 438.1,418.71 438.6,418.72 439.1,418.76 439.6,418.85 440.1,419 440.6,419.19 441.1,419.45 441.6,419.77 442.1,420.15 442.6,420.6 443.1,421.11 443.6,421.69 444.1,422.34 444.6,423.05 445.1,423.83 445.6,424.68 446.1,425.59 446.6,426.57 447.1,427.6 447.6,428.7 448.1,429.85 448.6,431.06 449.1,432.32 449.6,433.64 450.1,434.99 450.6,436.4 451.1,437.84 451.6,439.32 452.1,440.84 452.6,442.38 453.1,443.95 453.6,445.55 454.1,447.16 454.6,448.78 455.1,450.42 455.6,452.06 456.1,453.71 456.6,455.36 457.1,457 457.6,458.63 458.1,460.25 458.6,461.86 459.1,463.45 459.6,465.01 460.1,466.56 460.6,468.07 461.1,469.56 461.6,471.02 462.1,472.44 462.6,473.83 463,474.91 463,499.6" fill="#f9d5d0"/>
<g clip-path="url(#c8)">
<line x1="434.3" y1="499.6" x2="434.3" y2="421.8" stroke="#b84dff" stroke-width="1.4" stroke-dasharray="3.6 2.65"/>
<line x1="438.6" y1="499.6" x2="438.6" y2="418.72" stroke="#dd3a3a" stroke-width="1.4"/>
<polyline points="423.6,447.51 424.1,445.73 424.6,443.98 425.1,442.26 425.6,440.56 426.1,438.91 426.6,437.29 427.1,435.73 427.6,434.21 428.1,432.75 428.6,431.34 429.1,430 429.6,428.73 430.1,427.53 430.6,426.4 431.1,425.34 431.6,424.37 432.1,423.47 432.6,422.65 433.1,421.91 433.6,421.25 434.1,420.67 434.6,420.17 435.1,419.75 435.6,419.41 436.1,419.14 436.6,418.94 437.1,418.81 437.6,418.73 438.1,418.71 438.6,418.72 439.1,418.76 439.6,418.85 440.1,419 440.6,419.19 441.1,419.45 441.6,419.77 442.1,420.15 442.6,420.6 443.1,421.11 443.6,421.69 444.1,422.34 444.6,423.05 445.1,423.83 445.6,424.68 446.1,425.59 446.6,426.57 447.1,427.6 447.6,428.7 448.1,429.85 448.6,431.06 449.1,432.32 449.6,433.64 450.1,434.99 450.6,436.4 451.1,437.84 451.6,439.32 452.1,440.84 452.6,442.38 453.1,443.95 453.6,445.55 454.1,447.16 454.6,448.78 455.1,450.42 455.6,452.06 456.1,453.71 456.6,455.36 457.1,457 457.6,458.63 458.1,460.25 458.6,461.86 459.1,463.45 459.6,465.01 460.1,466.56 460.6,468.07 461.1,469.56 461.6,471.02 462.1,472.44 462.6,473.83 463.1,475.18 463.6,476.49 464.1,477.76 464.6,478.99 465.1,480.18 465.6,481.33 466.1,482.43 466.6,483.49 467.1,484.5 467.6,485.47 468.1,486.4 468.6,487.29 469.1,488.13 469.6,488.93 470.1,489.69 470.6,490.41 471.1,491.09 471.6,491.73 472.1,492.34 472.6,492.9 473.1,493.44 473.6,493.93 474.1,494.4 474.6,494.84 475.1,495.24 475.6,495.62 476.1,495.97 476.6,496.29 477.1,496.59 477.6,496.87 478.1,497.13 478.6,497.36 479.1,497.58 479.6,497.77 480.1,497.96 480.6,498.12 481.1,498.27 481.6,498.41 482.1,498.54 482.6,498.65 483.1,498.75 483.6,498.84 484.1,498.93 484.6,499 485.1,499.07 485.6,499.13 486.1,499.19 486.6,499.24 487.1,499.28 487.6,499.32 488.1,499.35 488.6,499.38 489.1,499.41 489.6,499.43 490.1,499.46 490.6,499.47 491.1,499.49 491.6,499.51 492.1,499.52 492.6,499.53 493.1,499.54 493.6,499.55 494.1,499.55 494.6,499.56 495.1,499.57 495.6,499.57 496.1,499.58 496.6,499.58 497.1,499.58 497.6,499.59 498.1,499.59 498.6,499.59 499.1,499.59 499.6,499.59 500.1,499.59 500.6,499.59 501.1,499.6 501.6,499.6 502.1,499.6 502.6,499.6 503.1,499.6 503.6,499.6 504.1,499.6 504.6,499.6 505.1,499.6 505.6,499.6 506.1,499.6 506.6,499.6 507.1,499.6 507.6,499.6 508.1,499.6 508.6,499.6 509.1,499.6 509.6,499.6 510.1,499.6 510.6,499.6 511.1,499.6 511.6,499.6 512.1,499.6 512.6,499.6 513.1,499.6 513.6,499.6 514.1,499.6 514.6,499.6 515.1,499.6 515.6,499.6 516.1,499.6 516.6,499.6 517.1,499.6 517.6,499.6 518.1,499.6 518.6,499.6 519.1,499.6 519.6,499.6 520.1,499.6 520.6,499.6 521.1,499.6 521.6,499.6 522.1,499.6 522.6,499.6 523.1,499.6 523.6,499.6 524.1,499.6 524.6,499.6 525.1,499.6 525.6,499.6 526.1,499.6 526.6,499.6 527.1,499.6 527.6,499.6 528.1,499.6 528.6,499.6 529.1,499.6 529.6,499.6 530.1,499.6 530.6,499.6 531.1,499.6 531.6,499.6 532.1,499.6 532.6,499.6 533.1,499.6 533.6,499.6 534.1,499.6 534.6,499.6 535.1,499.6 535.6,499.6 536.1,499.6 536.6,499.6 537.1,499.6 537.6,499.6 538.1,499.6 538.6,499.6 539.1,499.6 539.6,499.6 540.1,499.6 540.6,499.6 541.1,499.6 541.6,499.6 542.1,499.6 542.6,499.6 543.1,499.6 543.6,499.6 544.1,499.6 544.6,499.6 545.1,499.6 545.6,499.6 546.1,499.6 546.6,499.6 547.1,499.6 547.6,499.6 548.1,499.6 548.6,499.6 549.1,499.6 549.6,499.6 550.1,499.6 550.6,499.6 551.1,499.6 551.6,499.6 552.1,499.6 552.6,499.6 553.1,499.6 553.6,499.6 554.1,499.6 554.6,499.6 555.1,499.6 555.6,499.6 556.1,499.6 556.6,499.6 557.1,499.6 557.6,499.6 558.1,499.6 558.6,499.6 559.1,499.6 559.6,499.6 560.1,499.6 560.6,499.6 561.1,499.6 561.6,499.6 562.1,499.6 562.6,499.6 563.1,499.6 563.6,499.6 564.1,499.6 564.6,499.6 565.1,499.6 565.6,499.6 566.1,499.6 566.6,499.6 567.1,499.6 567.6,499.6 568.1,499.6 568.6,499.6 569.1,499.6 569.6,499.6 570.1,499.6 570.6,499.6 571.1,499.6 571.6,499.6 572.1,499.6 572.6,499.6 573.1,499.6 573.6,499.6 574.1,499.6 574.6,499.6 575.1,499.6 575.6,499.6 576.1,499.6 576.6,499.6 577.1,499.6 577.6,499.6 578.1,499.6 578.6,499.6 579.1,499.6 579.6,499.6 580.1,499.6 580.6,499.6 581.1,499.6 581.6,499.6 582.1,499.6 582.6,499.6 583.1,499.6 583.6,499.6 584.1,499.6 584.6,499.6 585.1,499.6 585.6,499.6 586.1,499.6 586.6,499.6 587.1,499.6 587.6,499.6 588.1,499.6 588.6,499.6 589.1,499.6 589.6,499.6 590.1,499.6 590.6,499.6 591.1,499.6 591.6,499.6 592.1,499.6 592.6,499.6 593.1,499.6 593.6,499.6 594.1,499.6 594.6,499.6 595.1,499.6 595.6,499.6 596.1,499.6 596.6,499.6 597.1,499.6 597.6,499.6 598.1,499.6 598.6,499.6 599.1,499.6 599.6,499.6 600.1,499.6 600.6,499.6 601.1,499.6 601.6,499.6 602.1,499.6 602.6,499.6 603.1,499.6 603.6,499.6 604.1,499.6 604.6,499.6 605.1,499.6 605.6,499.6 606.1,499.6 606.6,499.6 607.1,499.6 607.6,499.6 608.1,499.6 608.6,499.6 609.1,499.6 609.6,499.6 610.1,499.6 610.6,499.6 611.1,499.6 611.6,499.6 612.1,499.6 612.6,499.6 613.1,499.6 613.6,499.6 614.1,499.6 614.6,499.6 615.1,499.6 615.6,499.6 616.1,499.6 616.6,499.6 617.1,499.6 617.6,499.6 618.1,499.6 618.6,499.6 619.1,499.6 619.6,499.6 620.1,499.6 620.6,499.6 621.1,499.6 621.6,499.6 622.1,499.6 622.6,499.6 623.1,499.6 623.6,499.6 624.1,499.6 624.6,499.6 625.1,499.6 625.6,499.6 626.1,499.6 626.6,499.6 627.1,499.6 627.6,499.6 628.1,499.6 628.6,499.6 629.1,499.6 629.6,499.6 630.1,499.6 630.6,499.6 631.1,499.6 631.6,499.6 632.1,499.6 632.6,499.6 633.1,499.6 633.6,499.6 634.1,499.6 634.6,499.6 635.1,499.6 635.6,499.6 636.1,499.6 636.6,499.6 637.1,499.6 637.6,499.6 638.1,499.6 638.6,499.6 639.1,499.6 639.6,499.6 640.1,499.6 640.6,499.6 641.1,499.6 641.6,499.6 642.1,499.6 642.6,499.6 643.1,499.6 643.6,499.6 644.1,499.6 644.6,499.6 645.1,499.6 645.6,499.6 646.1,499.6 646.6,499.6 647.1,499.6 647.6,499.6 648.1,499.6" fill="none" stroke="#1872c0" stroke-width="1.5" stroke-linejoin="round"/>
</g>
<line x1="423.6" y1="499.6" x2="423.6" y2="496.3" stroke="#262626" stroke-width="1.3"/>
<line x1="423.6" y1="408.4" x2="423.6" y2="411.7" stroke="#262626" stroke-width="1.3"/>
<line x1="465.87" y1="499.6" x2="465.87" y2="496.3" stroke="#262626" stroke-width="1.3"/>
<line x1="465.87" y1="408.4" x2="465.87" y2="411.7" stroke="#262626" stroke-width="1.3"/>
<line x1="508.13" y1="499.6" x2="508.13" y2="496.3" stroke="#262626" stroke-width="1.3"/>
<line x1="508.13" y1="408.4" x2="508.13" y2="411.7" stroke="#262626" stroke-width="1.3"/>
<line x1="550.4" y1="499.6" x2="550.4" y2="496.3" stroke="#262626" stroke-width="1.3"/>
<line x1="550.4" y1="408.4" x2="550.4" y2="411.7" stroke="#262626" stroke-width="1.3"/>
<line x1="592.67" y1="499.6" x2="592.67" y2="496.3" stroke="#262626" stroke-width="1.3"/>
<line x1="592.67" y1="408.4" x2="592.67" y2="411.7" stroke="#262626" stroke-width="1.3"/>
<line x1="634.93" y1="499.6" x2="634.93" y2="496.3" stroke="#262626" stroke-width="1.3"/>
<line x1="634.93" y1="408.4" x2="634.93" y2="411.7" stroke="#262626" stroke-width="1.3"/>
<line x1="677.2" y1="499.6" x2="677.2" y2="496.3" stroke="#262626" stroke-width="1.3"/>
<line x1="677.2" y1="408.4" x2="677.2" y2="411.7" stroke="#262626" stroke-width="1.3"/>
<line x1="423.6" y1="499.6" x2="426.9" y2="499.6" stroke="#262626" stroke-width="1.3"/>
<line x1="677.2" y1="499.6" x2="673.9" y2="499.6" stroke="#262626" stroke-width="1.3"/>
<line x1="423.6" y1="476.8" x2="426.9" y2="476.8" stroke="#262626" stroke-width="1.3"/>
<line x1="677.2" y1="476.8" x2="673.9" y2="476.8" stroke="#262626" stroke-width="1.3"/>
<line x1="423.6" y1="454" x2="426.9" y2="454" stroke="#262626" stroke-width="1.3"/>
<line x1="677.2" y1="454" x2="673.9" y2="454" stroke="#262626" stroke-width="1.3"/>
<line x1="423.6" y1="431.2" x2="426.9" y2="431.2" stroke="#262626" stroke-width="1.3"/>
<line x1="677.2" y1="431.2" x2="673.9" y2="431.2" stroke="#262626" stroke-width="1.3"/>
<line x1="423.6" y1="408.4" x2="426.9" y2="408.4" stroke="#262626" stroke-width="1.3"/>
<line x1="677.2" y1="408.4" x2="673.9" y2="408.4" stroke="#262626" stroke-width="1.3"/>
<rect x="423.6" y="408.4" width="253.6" height="91.2" fill="none" stroke="#262626" stroke-width="1.35"/>
<text x="423.6" y="510.7" font-size="9.8" font-weight="bold" text-anchor="middle" fill="#1a1a1a" font-family='"Liberation Sans", sans-serif' textLength="5.07" lengthAdjust="spacingAndGlyphs" stroke="#1a1a1a" stroke-width="0.25">0</text>
<text x="465.87" y="510.7" font-size="9.8" font-weight="bold" text-anchor="middle" fill="#1a1a1a" font-family='"Liberation Sans", sans-serif' textLength="10.14" lengthAdjust="spacingAndGlyphs" stroke="#1a1a1a" stroke-width="0.25">20</text>
<text x="508.13" y="510.7" font-size="9.8" font-weight="bold" text-anchor="middle" fill="#1a1a1a" font-family='"Liberation Sans", sans-serif' textLength="10.14" lengthAdjust="spacingAndGlyphs" stroke="#1a1a1a" stroke-width="0.25">40</text>
<text x="550.4" y="510.7" font-size="9.8" font-weight="bold" text-anchor="middle" fill="#1a1a1a" font-family='"Liberation Sans", sans-serif' textLength="10.14" lengthAdjust="spacingAndGlyphs" stroke="#1a1a1a" stroke-width="0.25">60</text>
<text x="592.67" y="510.7" font-size="9.8" font-weight="bold" text-anchor="middle" fill="#1a1a1a" font-family='"Liberation Sans", sans-serif' textLength="10.14" lengthAdjust="spacingAndGlyphs" stroke="#1a1a1a" stroke-width="0.25">80</text>
<text x="634.93" y="510.7" font-size="9.8" font-weight="bold" text-anchor="middle" fill="#1a1a1a" font-family='"Liberation Sans", sans-serif' textLength="15.2" lengthAdjust="spacingAndGlyphs" stroke="#1a1a1a" stroke-width="0.25">100</text>
<text x="677.2" y="510.7" font-size="9.8" font-weight="bold" text-anchor="middle" fill="#1a1a1a" font-family='"Liberation Sans", sans-serif' textLength="15.2" lengthAdjust="spacingAndGlyphs" stroke="#1a1a1a" stroke-width="0.25">120</text>
<text x="420.4" y="503.2" font-size="9.8" font-weight="bold" text-anchor="end" fill="#1a1a1a" font-family='"Liberation Sans", sans-serif' textLength="5.07" lengthAdjust="spacingAndGlyphs" stroke="#1a1a1a" stroke-width="0.25">0</text>
<text x="420.4" y="480.4" font-size="9.8" font-weight="bold" text-anchor="end" fill="#1a1a1a" font-family='"Liberation Sans", sans-serif' textLength="17.74" lengthAdjust="spacingAndGlyphs" stroke="#1a1a1a" stroke-width="0.25">0.01</text>
<text x="420.4" y="457.6" font-size="9.8" font-weight="bold" text-anchor="end" fill="#1a1a1a" font-family='"Liberation Sans", sans-serif' textLength="17.74" lengthAdjust="spacingAndGlyphs" stroke="#1a1a1a" stroke-width="0.25">0.02</text>
<text x="420.4" y="434.8" font-size="9.8" font-weight="bold" text-anchor="end" fill="#1a1a1a" font-family='"Liberation Sans", sans-serif' textLength="17.74" lengthAdjust="spacingAndGlyphs" stroke="#1a1a1a" stroke-width="0.25">0.03</text>
<text x="420.4" y="412" font-size="9.8" font-weight="bold" text-anchor="end" fill="#1a1a1a" font-family='"Liberation Sans", sans-serif' textLength="17.74" lengthAdjust="spacingAndGlyphs" stroke="#1a1a1a" stroke-width="0.25">0.04</text>
<rect x="548.4" y="413.8" width="121" height="49.6" fill="#fff" stroke="#333" stroke-width="1.1"/>
<line x1="552" y1="421" x2="582.6" y2="421" stroke="#1872c0" stroke-width="1.5"/>
<text x="585.4" y="424.3" font-size="9.0" font-weight="bold" text-anchor="start" fill="#1a1a1a" font-family='"Liberation Sans", sans-serif' textLength="46.8" lengthAdjust="spacingAndGlyphs" stroke="#1a1a1a" stroke-width="0.25">PDF of RUL</text>
<line x1="552" y1="432.8" x2="582.6" y2="432.8" stroke="#dd3a3a" stroke-width="1.5"/>
<text x="585.4" y="436.1" font-size="9.0" font-weight="bold" text-anchor="start" fill="#1a1a1a" font-family='"Liberation Sans", sans-serif' textLength="58.6" lengthAdjust="spacingAndGlyphs" stroke="#1a1a1a" stroke-width="0.25">Predicted RUL</text>
<line x1="552" y1="444.6" x2="582.6" y2="444.6" stroke="#b84dff" stroke-width="1.5" stroke-dasharray="3.5 2.8"/>
<text x="585.4" y="447.9" font-size="9.0" font-weight="bold" text-anchor="start" fill="#1a1a1a" font-family='"Liberation Sans", sans-serif' textLength="45.6" lengthAdjust="spacingAndGlyphs" stroke="#1a1a1a" stroke-width="0.25">Actual RUL</text>
<rect x="552" y="452.4" width="30.6" height="7.8" fill="#f9d5d0"/>
<text x="585.4" y="459.5" font-size="9.0" font-weight="bold" text-anchor="start" fill="#1a1a1a" font-family='"Liberation Sans", sans-serif' textLength="81.3" lengthAdjust="spacingAndGlyphs" stroke="#1a1a1a" stroke-width="0.25">Confidence interval</text>
<text x="550.4" y="524.8" font-size="10" font-weight="bold" text-anchor="middle" fill="#1a1a1a" font-family='"Liberation Sans", sans-serif' textLength="25.6" lengthAdjust="spacingAndGlyphs" stroke="#1a1a1a" stroke-width="0.25">Cycle</text>
<text x="398.6" y="453.4" font-size="10.2" font-weight="bold" text-anchor="middle" fill="#1a1a1a" font-family='"Liberation Sans", sans-serif' textLength="55" lengthAdjust="spacingAndGlyphs" transform="rotate(-90 398.6 453.4)" stroke="#1a1a1a" stroke-width="0.25">PDF of RUL</text>
<text x="155.9" y="263.9" font-size="13.5" font-weight="normal" text-anchor="middle" fill="#1a1a1a" font-family='"Liberation Serif", serif' textLength="14.8" lengthAdjust="spacingAndGlyphs" stroke="#1a1a1a" stroke-width="0.2">(a)</text>
<text x="535.4" y="263.6" font-size="13.5" font-weight="normal" text-anchor="middle" fill="#1a1a1a" font-family='"Liberation Serif", serif' textLength="15.3" lengthAdjust="spacingAndGlyphs" stroke="#1a1a1a" stroke-width="0.2">(b)</text>
<text x="148.9" y="542.5" font-size="13.5" font-weight="normal" text-anchor="middle" fill="#1a1a1a" font-family='"Liberation Serif", serif' textLength="14.6" lengthAdjust="spacingAndGlyphs" stroke="#1a1a1a" stroke-width="0.2">(c)</text>
<text x="535" y="542.5" font-size="13.5" font-weight="normal" text-anchor="middle" fill="#1a1a1a" font-family='"Liberation Serif", serif' textLength="15.3" lengthAdjust="spacingAndGlyphs" stroke="#1a1a1a" stroke-width="0.2">(d)</text>
</svg>
</body></html>
